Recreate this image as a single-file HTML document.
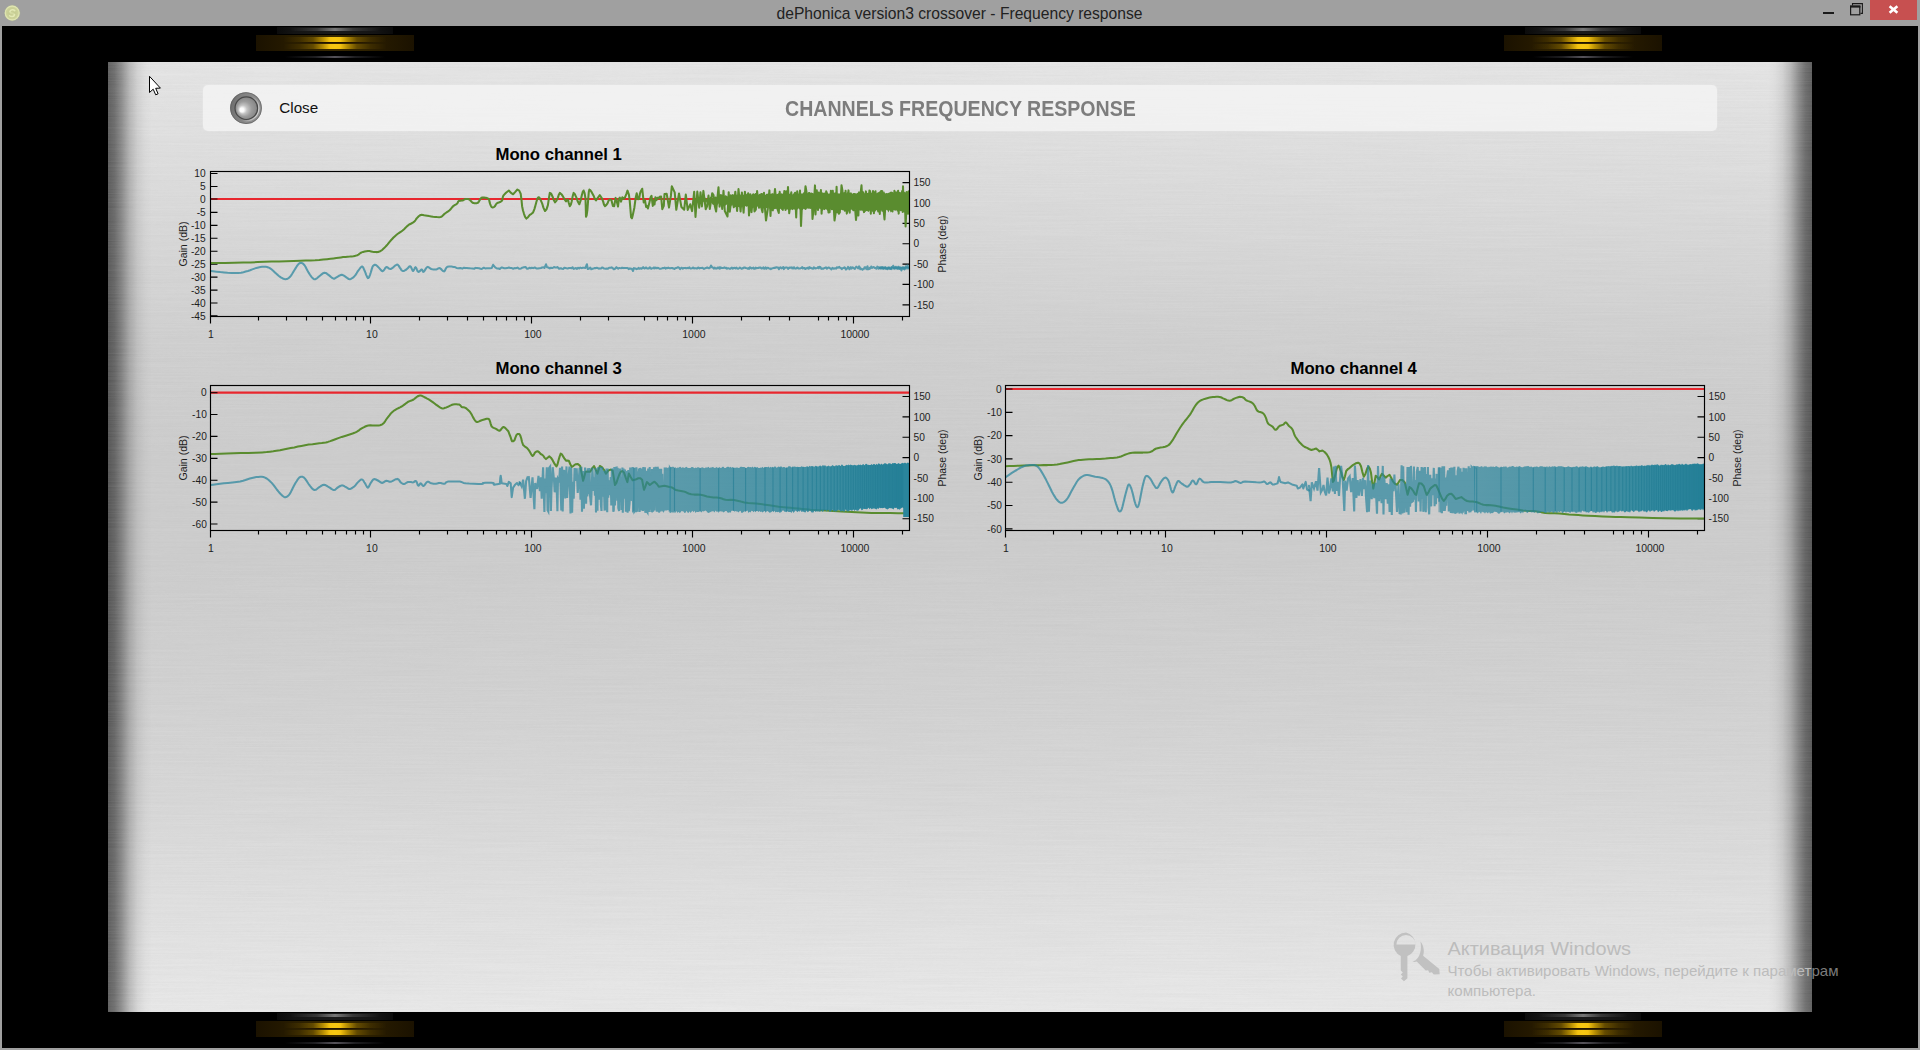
<!DOCTYPE html>
<html><head><meta charset="utf-8"><title>dePhonica version3 crossover - Frequency response</title>
<style>
*{box-sizing:border-box}
html,body{margin:0;padding:0}
body{width:1920px;height:1050px;overflow:hidden;background:#a0a0a0;font-family:"Liberation Sans",sans-serif;position:relative}
.abs{position:absolute}
#titlebar{left:0;top:0;width:1920px;height:26px;background:#a0a0a0}
#title{left:0;top:4.7px;width:1919px;text-align:center;font-size:15.65px;color:#222;white-space:nowrap}
#appicon{left:4.5px;top:5.5px;width:15px;height:15px;border-radius:50%;background:radial-gradient(circle at 50% 50%,#cfd69a 0,#d9dfa8 55%,#c9cf98 70%,#b4b99a 100%)}
#minb{left:1823px;top:12px;width:11px;height:2px;background:#1a1a1a}
#closeb{left:1870px;top:0;width:47px;height:20px;background:#c75050}
#black{left:2px;top:26px;width:1916px;height:1022px;background:#000}
#panel{left:108px;top:62px;width:1704px;height:950px;overflow:hidden;
 background:
  linear-gradient(90deg,rgba(0,0,0,0.6) 0px,rgba(0,0,0,0.53) 6.5px,rgba(0,0,0,0.39) 13.5px,rgba(0,0,0,0.2) 21.5px,rgba(0,0,0,0.08) 29.5px,rgba(0,0,0,0.025) 37px,rgba(0,0,0,0) 44px,rgba(0,0,0,0) 1660px,rgba(0,0,0,0.025) 1667px,rgba(0,0,0,0.08) 1674.5px,rgba(0,0,0,0.2) 1682.5px,rgba(0,0,0,0.39) 1690.5px,rgba(0,0,0,0.53) 1697.5px,rgba(0,0,0,0.6) 1704px),
  linear-gradient(180deg,#e5e5e5 0,#dfdfdf 78px,#d7d7d7 180px,#cfcfcf 278px,#cccccc 390px,#cccccc 500px,#d1d1d1 640px,#d7d7d7 740px,#dfdfdf 840px,#e4e4e4 900px,#e8e8e8 950px)}
#hdr{left:203px;top:85px;width:1514px;height:46px;border-radius:5px;background:rgba(243,243,243,.88);box-shadow:0 0 1.500px rgba(243,243,243,.7)}
#hdrtitle{left:784.6px;top:96.3px;font-weight:bold;font-size:21.7px;color:#7d7d7d;white-space:nowrap;transform-origin:0 0;transform:scaleX(.902)}
#closetxt{left:279.3px;top:98.7px;font-size:15.2px;color:#111;white-space:nowrap;transform-origin:0 0}
#knob{left:229.5px;top:92px;width:32px;height:32px;border-radius:50%;
 background:radial-gradient(circle at 50% 50%,#8a8a8a 0,#8a8a8a 62%,#6e6e6e 70%,#8f8f8f 80%,#777 92%,#999 100%)}
#knobin{left:235px;top:97.5px;width:21px;height:21px;border-radius:50%;
 background:radial-gradient(circle at 32% 62%,#fff 0,#f2f2f2 10%,#b9b9b9 38%,#8d8d8d 70%,#777 100%);box-shadow:0 0 0 1px #6a6a6a}
.wm{color:#b5b5b5;white-space:nowrap;transform-origin:0 0}
</style></head>
<body>
<div id="titlebar" class="abs"></div>
<svg class="abs" style="left:2px;top:3px" width="22" height="22" viewBox="2 3 22 22">
<circle cx="12.2" cy="13" r="8.4" fill="#a8ab9a" opacity=".55"/>
<circle cx="12.2" cy="13" r="7.5" fill="#cdd39a"/>
<circle cx="12.2" cy="13" r="6.9" fill="none" stroke="#dfe5b2" stroke-width="1.1"/>
<circle cx="12.2" cy="13" r="5.2" fill="#c9cf96"/>
<path d="M14.800 10.600c-1.300-1.200-3.700-1-4.600 .3-.9 1.400 .5 2.300 2 2.400 1.500 .1 2.900 .8 2.100 2.200-.8 1.300-3.300 1.500-4.700 .2" fill="none" stroke="#e3e9b6" stroke-width="1.5" stroke-linecap="round"/>
<path d="M8.600 13.100h7.300" stroke="#c3c98e" stroke-width=".8"/>
</svg>
<div id="title" class="abs">dePhonica version3 crossover - Frequency response</div>
<div id="minb" class="abs"></div>
<svg class="abs" style="left:1846px;top:0" width="20" height="20" viewBox="0 0 20 20"><path d="M6.5 5.5V3.6H16.4V13.4H14.5" fill="none" stroke="#1a1a1a" stroke-width="1.1"/><rect x="4.6" y="6.4" width="9.2" height="8.4" fill="none" stroke="#1a1a1a" stroke-width="1.2"/><rect x="4" y="5.4" width="10.4" height="2.2" fill="#1a1a1a"/></svg>
<div id="closeb" class="abs"></div>
<svg class="abs" style="left:1886px;top:3px" width="16" height="14" viewBox="0 0 16 14"><path d="M3.600 3.300L11.400 9.800M11.400 3.300L3.600 9.800" stroke="#fff" stroke-width="2.600" fill="none"/></svg>
<div id="black" class="abs"></div>
<div class="abs" style="left:276.5px;top:26.700000000000003px;width:116px;height:7px;background:linear-gradient(90deg,#0b0b0b 0,#141414 15%,#1b1b1b 50%,#141414 85%,#0b0b0b 100%)"></div>
<div class="abs" style="left:289.5px;top:28.1px;width:90px;height:2.6px;background:linear-gradient(90deg,rgba(120,120,120,0) 0,rgba(95,95,95,.45) 30%,rgba(125,125,125,.95) 50%,rgba(95,95,95,.45) 70%,rgba(120,120,120,0) 100%);filter:blur(.6px)"></div>
<div class="abs" style="left:255.5px;top:34.7px;width:158px;height:16px;background:linear-gradient(90deg,#1b1200 0,#231800 15%,#2e2100 30%,#3a2a00 50%,#2e2100 70%,#231800 85%,#1b1200 100%)"></div>
<div class="abs" style="left:282.5px;top:36.900000000000006px;width:104px;height:5.2px;background:linear-gradient(90deg,rgba(200,150,0,0) 0,rgba(190,145,0,.12) 16%,rgba(205,158,0,.32) 29%,rgba(228,178,4,.74) 38.5%,#f5c30f 45%,#f7c812 50%,#f5c30f 55%,rgba(228,178,4,.74) 61.5%,rgba(205,158,0,.32) 71%,rgba(190,145,0,.12) 84%,rgba(200,150,0,0) 100%);filter:blur(.5px)"></div>
<div class="abs" style="left:282.5px;top:43.5px;width:104px;height:5.6px;background:linear-gradient(90deg,rgba(200,150,0,0) 0,rgba(190,145,0,.12) 16%,rgba(205,158,0,.32) 29%,rgba(228,178,4,.74) 38.5%,#f5c30f 45%,#f7c812 50%,#f5c30f 55%,rgba(228,178,4,.74) 61.5%,rgba(205,158,0,.32) 71%,rgba(190,145,0,.12) 84%,rgba(200,150,0,0) 100%);filter:blur(.5px)"></div>
<div class="abs" style="left:294.5px;top:42.2px;width:80px;height:1.1px;background:linear-gradient(90deg,rgba(26,13,0,0),#1a0d00 30%,#1a0d00 70%,rgba(26,13,0,0));opacity:.75"></div>
<div class="abs" style="left:284.5px;top:56.0px;width:100px;height:2.4px;background:linear-gradient(90deg,rgba(80,80,90,0) 0,rgba(60,60,66,.5) 30%,rgba(95,92,100,.9) 50%,rgba(60,60,66,.5) 70%,rgba(80,80,90,0) 100%);filter:blur(.6px)"></div>
<div class="abs" style="left:1525px;top:26.700000000000003px;width:116px;height:7px;background:linear-gradient(90deg,#0b0b0b 0,#141414 15%,#1b1b1b 50%,#141414 85%,#0b0b0b 100%)"></div>
<div class="abs" style="left:1538px;top:28.1px;width:90px;height:2.6px;background:linear-gradient(90deg,rgba(120,120,120,0) 0,rgba(95,95,95,.45) 30%,rgba(125,125,125,.95) 50%,rgba(95,95,95,.45) 70%,rgba(120,120,120,0) 100%);filter:blur(.6px)"></div>
<div class="abs" style="left:1504px;top:34.7px;width:158px;height:16px;background:linear-gradient(90deg,#1b1200 0,#231800 15%,#2e2100 30%,#3a2a00 50%,#2e2100 70%,#231800 85%,#1b1200 100%)"></div>
<div class="abs" style="left:1531px;top:36.900000000000006px;width:104px;height:5.2px;background:linear-gradient(90deg,rgba(200,150,0,0) 0,rgba(190,145,0,.12) 16%,rgba(205,158,0,.32) 29%,rgba(228,178,4,.74) 38.5%,#f5c30f 45%,#f7c812 50%,#f5c30f 55%,rgba(228,178,4,.74) 61.5%,rgba(205,158,0,.32) 71%,rgba(190,145,0,.12) 84%,rgba(200,150,0,0) 100%);filter:blur(.5px)"></div>
<div class="abs" style="left:1531px;top:43.5px;width:104px;height:5.6px;background:linear-gradient(90deg,rgba(200,150,0,0) 0,rgba(190,145,0,.12) 16%,rgba(205,158,0,.32) 29%,rgba(228,178,4,.74) 38.5%,#f5c30f 45%,#f7c812 50%,#f5c30f 55%,rgba(228,178,4,.74) 61.5%,rgba(205,158,0,.32) 71%,rgba(190,145,0,.12) 84%,rgba(200,150,0,0) 100%);filter:blur(.5px)"></div>
<div class="abs" style="left:1543px;top:42.2px;width:80px;height:1.1px;background:linear-gradient(90deg,rgba(26,13,0,0),#1a0d00 30%,#1a0d00 70%,rgba(26,13,0,0));opacity:.75"></div>
<div class="abs" style="left:1533px;top:56.0px;width:100px;height:2.4px;background:linear-gradient(90deg,rgba(80,80,90,0) 0,rgba(60,60,66,.5) 30%,rgba(95,92,100,.9) 50%,rgba(60,60,66,.5) 70%,rgba(80,80,90,0) 100%);filter:blur(.6px)"></div>
<div class="abs" style="left:276.5px;top:1012.7px;width:116px;height:7px;background:linear-gradient(90deg,#0b0b0b 0,#141414 15%,#1b1b1b 50%,#141414 85%,#0b0b0b 100%)"></div>
<div class="abs" style="left:289.5px;top:1014.1px;width:90px;height:2.6px;background:linear-gradient(90deg,rgba(120,120,120,0) 0,rgba(95,95,95,.45) 30%,rgba(125,125,125,.95) 50%,rgba(95,95,95,.45) 70%,rgba(120,120,120,0) 100%);filter:blur(.6px)"></div>
<div class="abs" style="left:255.5px;top:1020.7px;width:158px;height:16px;background:linear-gradient(90deg,#1b1200 0,#231800 15%,#2e2100 30%,#3a2a00 50%,#2e2100 70%,#231800 85%,#1b1200 100%)"></div>
<div class="abs" style="left:282.5px;top:1022.9000000000001px;width:104px;height:5.2px;background:linear-gradient(90deg,rgba(200,150,0,0) 0,rgba(190,145,0,.12) 16%,rgba(205,158,0,.32) 29%,rgba(228,178,4,.74) 38.5%,#f5c30f 45%,#f7c812 50%,#f5c30f 55%,rgba(228,178,4,.74) 61.5%,rgba(205,158,0,.32) 71%,rgba(190,145,0,.12) 84%,rgba(200,150,0,0) 100%);filter:blur(.5px)"></div>
<div class="abs" style="left:282.5px;top:1029.5px;width:104px;height:5.6px;background:linear-gradient(90deg,rgba(200,150,0,0) 0,rgba(190,145,0,.12) 16%,rgba(205,158,0,.32) 29%,rgba(228,178,4,.74) 38.5%,#f5c30f 45%,#f7c812 50%,#f5c30f 55%,rgba(228,178,4,.74) 61.5%,rgba(205,158,0,.32) 71%,rgba(190,145,0,.12) 84%,rgba(200,150,0,0) 100%);filter:blur(.5px)"></div>
<div class="abs" style="left:294.5px;top:1028.2px;width:80px;height:1.1px;background:linear-gradient(90deg,rgba(26,13,0,0),#1a0d00 30%,#1a0d00 70%,rgba(26,13,0,0));opacity:.75"></div>
<div class="abs" style="left:284.5px;top:1042.0px;width:100px;height:2.4px;background:linear-gradient(90deg,rgba(80,80,90,0) 0,rgba(60,60,66,.5) 30%,rgba(95,92,100,.9) 50%,rgba(60,60,66,.5) 70%,rgba(80,80,90,0) 100%);filter:blur(.6px)"></div>
<div class="abs" style="left:1525px;top:1012.7px;width:116px;height:7px;background:linear-gradient(90deg,#0b0b0b 0,#141414 15%,#1b1b1b 50%,#141414 85%,#0b0b0b 100%)"></div>
<div class="abs" style="left:1538px;top:1014.1px;width:90px;height:2.6px;background:linear-gradient(90deg,rgba(120,120,120,0) 0,rgba(95,95,95,.45) 30%,rgba(125,125,125,.95) 50%,rgba(95,95,95,.45) 70%,rgba(120,120,120,0) 100%);filter:blur(.6px)"></div>
<div class="abs" style="left:1504px;top:1020.7px;width:158px;height:16px;background:linear-gradient(90deg,#1b1200 0,#231800 15%,#2e2100 30%,#3a2a00 50%,#2e2100 70%,#231800 85%,#1b1200 100%)"></div>
<div class="abs" style="left:1531px;top:1022.9000000000001px;width:104px;height:5.2px;background:linear-gradient(90deg,rgba(200,150,0,0) 0,rgba(190,145,0,.12) 16%,rgba(205,158,0,.32) 29%,rgba(228,178,4,.74) 38.5%,#f5c30f 45%,#f7c812 50%,#f5c30f 55%,rgba(228,178,4,.74) 61.5%,rgba(205,158,0,.32) 71%,rgba(190,145,0,.12) 84%,rgba(200,150,0,0) 100%);filter:blur(.5px)"></div>
<div class="abs" style="left:1531px;top:1029.5px;width:104px;height:5.6px;background:linear-gradient(90deg,rgba(200,150,0,0) 0,rgba(190,145,0,.12) 16%,rgba(205,158,0,.32) 29%,rgba(228,178,4,.74) 38.5%,#f5c30f 45%,#f7c812 50%,#f5c30f 55%,rgba(228,178,4,.74) 61.5%,rgba(205,158,0,.32) 71%,rgba(190,145,0,.12) 84%,rgba(200,150,0,0) 100%);filter:blur(.5px)"></div>
<div class="abs" style="left:1543px;top:1028.2px;width:80px;height:1.1px;background:linear-gradient(90deg,rgba(26,13,0,0),#1a0d00 30%,#1a0d00 70%,rgba(26,13,0,0));opacity:.75"></div>
<div class="abs" style="left:1533px;top:1042.0px;width:100px;height:2.4px;background:linear-gradient(90deg,rgba(80,80,90,0) 0,rgba(60,60,66,.5) 30%,rgba(95,92,100,.9) 50%,rgba(60,60,66,.5) 70%,rgba(80,80,90,0) 100%);filter:blur(.6px)"></div>
<div id="panel" class="abs"></div>
<svg class="abs" style="left:0;top:0" width="1920" height="1050" viewBox="0 0 1920 1050"><defs>
<filter id="brush" x="0" y="0" width="100%" height="100%"><feTurbulence type="fractalNoise" baseFrequency="0.011 0.8" numOctaves="2" seed="7" result="n"/><feColorMatrix type="matrix" values="0 0 0 0 1  0 0 0 0 1  0 0 0 0 1  0.9 0 0 0 -0.18"/></filter>
<filter id="brush2" x="0" y="0" width="100%" height="100%"><feTurbulence type="fractalNoise" baseFrequency="0.009 0.7" numOctaves="2" seed="23" result="n"/><feColorMatrix type="matrix" values="0 0 0 0 0.35  0 0 0 0 0.35  0 0 0 0 0.35  0.9 0 0 0 -0.2"/></filter>
</defs>
<rect x="108" y="62" width="1704" height="950" filter="url(#brush)" opacity="0.105"/>
<rect x="108" y="62" width="1704" height="950" filter="url(#brush2)" opacity="0.12"/>
</svg>
<div id="hdr" class="abs"></div>
<svg class="abs" style="left:226px;top:88px" width="40" height="40" viewBox="226 88 40 40">
<defs>
<linearGradient id="kr" x1="0" y1="0" x2="1" y2="0.2"><stop offset="0" stop-color="#686868"/><stop offset="0.35" stop-color="#7e7e7e"/><stop offset="1" stop-color="#939393"/></linearGradient>
<linearGradient id="kc" x1="0" y1="0.2" x2="1" y2="0.6"><stop offset="0" stop-color="#c8c8c8" stop-opacity="0"/><stop offset="0.55" stop-color="#c8c8c8" stop-opacity="0"/><stop offset="1" stop-color="#d0d0d0" stop-opacity="0.95"/></linearGradient>
<radialGradient id="ks" cx="246.3" cy="108.2" r="12.5" fx="241" fy="110.3" gradientUnits="userSpaceOnUse"><stop offset="0" stop-color="#fff"/><stop offset="0.16" stop-color="#fbfbfb"/><stop offset="0.34" stop-color="#c4c4c4"/><stop offset="0.6" stop-color="#9c9c9c"/><stop offset="0.85" stop-color="#8a8a8a"/><stop offset="1" stop-color="#808080"/></radialGradient>
</defs>
<circle cx="246" cy="108.1" r="15.9" fill="url(#kr)"/>
<circle cx="246" cy="108.1" r="15.5" fill="none" stroke="#5e5e5e" stroke-width="0.9" stroke-opacity="0.7"/>
<circle cx="246.3" cy="108.2" r="12.5" fill="none" stroke="url(#kc)" stroke-width="1.5"/>
<circle cx="246.3" cy="108.2" r="10.9" fill="url(#ks)"/>
<circle cx="246.3" cy="108.2" r="11.3" fill="none" stroke="#484848" stroke-width="1.15"/>
</svg>
<div id="closetxt" class="abs">Close</div>
<div id="hdrtitle" class="abs">CHANNELS FREQUENCY RESPONSE</div>
<svg class="abs" style="left:0;top:0" width="1920" height="1050" viewBox="0 0 1920 1050" font-family="Liberation Sans, sans-serif"><style>.tl{font-size:11.6px;fill:#1e1e1e}</style><clipPath id="c210_171"><rect x="210.5" y="171.5" width="699" height="145"/></clipPath>
<text x="558.7" y="159.9" text-anchor="middle" font-weight="bold" font-size="16.6" fill="#000" textLength="126.5" lengthAdjust="spacingAndGlyphs">Mono channel 1</text>
<path d="M210.5 173.5h7M210.5 186.5h7M210.5 199.4h7M210.5 212.3h7M210.5 225.3h7M210.5 238.2h7M210.5 251.2h7M210.5 264.1h7M210.5 277.1h7M210.5 290.1h7M210.5 303.0h7M210.5 315.9h7M909.5 182.6h-7M909.5 202.9h-7M909.5 223.3h-7M909.5 243.7h-7M909.5 264.1h-7M909.5 284.4h-7M909.5 304.8h-7M210.50 316.5v7M258.50 316.5v4M286.50 316.5v4M306.50 316.5v4M322.50 316.5v4M335.50 316.5v4M346.50 316.5v4M355.50 316.5v4M363.50 316.5v4M370.50 316.5v7M419.50 316.5v4M447.50 316.5v4M467.50 316.5v4M483.50 316.5v4M496.50 316.5v4M506.50 316.5v4M516.50 316.5v4M524.50 316.5v4M531.50 316.5v7M580.50 316.5v4M608.50 316.5v4M644.50 316.5v4M657.50 316.5v4M667.50 316.5v4M677.50 316.5v4M685.50 316.5v4M692.50 316.5v7M741.50 316.5v4M769.50 316.5v4M789.50 316.5v4M818.50 316.5v4M828.50 316.5v4M838.50 316.5v4M846.50 316.5v4M853.50 316.5v7M902.50 316.5v4" stroke="#000" stroke-width="1.15" fill="none"/>
<g clip-path="url(#c210_171)" fill="none" stroke-linejoin="round" stroke-linecap="round">
<path d="M210.5 199.0H909.5" stroke="#e8272e" stroke-width="2.2" stroke-linecap="butt"/>
<path d="M210.7 263.1L216.6 263.0L225.1 262.9L234.5 262.8L243.1 262.6L250.5 262.4L257.6 262.1L264.6 261.8L271.7 261.6L279.1 261.4L286.5 261.2L293.7 261.0L300.2 260.8L305.7 260.6L310.6 260.4L315.1 260.3L319.3 260.0L323.3 259.6L327.1 259.2L330.5 258.8L333.6 258.4L336.3 258.0L338.7 257.7L340.9 257.4L343.1 257.1L345.4 256.9L347.6 256.7L349.8 256.6L351.7 256.4L353.4 256.2L354.8 255.9L356.1 255.6L357.4 255.2L358.5 254.6L359.5 253.8L360.5 253.0L361.7 252.4L363.1 251.9L364.7 251.5L366.3 251.2L367.9 251.0L369.5 251.1L371.1 251.4L372.6 251.7L374.0 251.9L375.2 252.0L376.3 252.1L377.3 252.1L378.3 251.9L379.3 251.6L380.2 251.2L381.1 250.7L382.1 250.0L383.1 249.1L384.2 248.1L385.3 246.9L386.4 245.7L387.6 244.4L388.8 242.9L390.0 241.4L391.2 240.0L392.4 238.7L393.5 237.5L394.7 236.4L396.0 235.2L397.5 234.0L399.2 232.9L401.0 231.7L402.6 230.5L404.1 229.2L405.5 227.8L406.9 226.4L408.3 225.2L409.8 224.2L411.3 223.5L412.8 222.7L414.0 221.9L414.9 221.0L415.6 220.0L416.2 219.0L416.9 218.1L417.8 217.2L418.7 216.3L419.7 215.5L420.7 215.0L421.8 214.8L422.9 214.9L424.1 215.2L425.5 215.4L427.2 215.7L429.1 216.1L431.1 216.4L433.1 216.7L435.1 216.9L437.1 217.1L439.1 217.2L440.7 217.0L441.9 216.4L442.8 215.6L443.6 214.7L444.5 213.8L445.7 213.0L446.9 212.2L448.1 211.4L449.3 210.5L450.3 209.5L451.3 208.3L452.2 207.2L453.1 206.2L454.1 205.5L455.1 204.9L456.1 204.4L456.9 203.8L457.5 203.1L457.9 202.3L458.2 201.5L458.8 201.0L459.6 200.7L460.6 200.7L461.7 200.6L462.6 200.5L463.4 200.1L464.1 199.7L464.7 199.3L465.5 199.0L466.4 198.9L467.4 199.0L468.4 199.1L469.3 199.5L470.2 200.2L471.0 201.1L471.8 202.0L472.6 202.7L473.5 203.1L474.4 203.3L475.2 203.3L476.0 203.3L476.6 203.2L477.2 203.1L477.7 202.9L478.3 202.4L478.9 201.6L479.5 200.5L480.1 199.4L480.7 198.6L481.1 198.1L481.4 197.8L481.9 197.6L482.6 197.6L483.9 197.6L485.5 197.8L487.1 198.1L488.3 198.6L489.0 199.4L489.3 200.6L489.5 201.8L489.8 202.9L490.2 204.1L490.7 205.3L491.2 206.4L491.7 207.1L492.3 207.4L493.1 207.4L493.8 207.1L494.5 206.7L495.1 206.0L495.6 205.1L496.1 204.1L496.9 203.3L498.0 202.7L499.4 202.2L500.7 201.7L501.7 201.0L502.3 199.9L502.5 198.6L502.8 197.3L503.1 196.2L503.6 195.3L504.2 194.6L504.8 194.0L505.5 193.3L506.3 192.5L507.3 191.7L508.2 191.0L508.8 190.5L510.7 192.7L513.1 194.3L515.3 191.9L517.4 189.5L519.2 190.6L520.7 193.8L521.5 199.8L522.1 206.2L523.0 210.5L524.0 213.8L525.1 216.9L526.4 218.6L528.0 217.2L529.8 214.8L531.5 213.8L533.1 212.4L534.4 209.1L535.5 205.2L536.5 201.5L537.4 198.6L538.3 197.3L539.3 197.6L540.6 199.9L542.1 203.3L543.5 207.9L545.0 211.0L546.5 209.3L547.9 205.2L548.9 198.4L549.8 192.9L551.2 193.7L552.6 196.7L553.8 200.1L555.0 202.4L556.5 200.6L557.9 197.6L558.8 194.7L559.8 192.9L561.4 194.2L563.1 196.7L564.6 199.4L566.0 201.4L567.0 200.3L567.9 199.5L568.8 203.0L569.8 206.2L570.8 204.7L571.7 201.4L572.6 196.6L573.6 192.9L574.9 194.3L576.4 197.6L577.9 201.8L579.3 204.3L580.6 200.7L581.7 195.7L582.7 192.1L583.6 190.5L584.6 193.1L585.5 198.6L585.8 208.6L586.0 216.7L586.6 215.6L587.4 210.0L588.1 200.7L588.8 191.9L589.4 189.5L590.2 190.0L591.8 192.4L593.6 195.7L594.8 198.8L596.0 200.5L597.8 197.8L599.8 195.2L601.7 198.0L603.1 201.4L604.0 204.6L605.0 206.1L606.4 204.9L607.5 203.4L608.8 200.2L610.0 199.5L611.4 199.9L612.9 206.0L614.2 206.2L615.6 197.9L616.7 201.1L618.0 206.6L618.9 198.8L619.8 197.6L621.0 201.6L622.3 197.3L623.7 198.7L625.0 197.3L626.4 193.8L627.5 190.6L628.9 194.7L629.7 200.6L631.1 217.3L632.0 218.3L632.8 214.9L634.3 208.0L635.7 197.7L636.7 193.2L638.0 199.3L639.1 199.1L639.9 193.8L640.7 191.4L642.2 188.7L643.7 202.4L645.0 200.4L646.1 206.9L647.0 205.9L647.9 208.5L649.3 202.9L650.6 197.3L651.5 195.8L652.8 205.9L653.6 200.5L654.5 204.5L655.4 197.2L656.5 200.2L657.4 197.8L658.7 198.4L659.6 196.7L661.1 196.5L662.3 209.2L663.8 205.9L664.5 194.1L666.7 193.8L669.0 207.5L670.9 195.9L671.8 186.3L674.7 192.4L676.3 209.8L679.0 193.5L681.4 207.0L684.2 209.7L685.8 194.6L687.7 209.9L690.2 204.3L692.1 211.1L694.2 191.7L695.5 217.0L697.3 191.6L699.2 207.7L700.5 192.3L701.9 206.5L703.4 190.9L705.7 209.2L707.0 206.5L708.5 195.6L709.8 209.0L712.2 193.2L713.5 195.1L714.8 206.1L716.1 211.6L718.5 187.2L719.6 206.6L720.9 195.0L722.2 208.9L723.5 190.7L724.8 211.0L727.5 216.5L728.7 192.2L729.8 211.7L731.9 195.9L733.8 207.3L735.3 191.7L737.1 210.9L738.5 189.0L740.6 211.5L741.9 192.6L743.6 212.6L744.9 191.7L746.7 205.7L748.2 193.2L749.0 215.5L750.4 194.3L751.5 212.1L753.3 194.2L754.5 211.4L755.8 209.7L757.1 191.1L758.9 207.4L760.0 194.9L761.3 207.7L762.5 212.2L764.0 192.7L764.8 206.4L766.0 220.5L767.8 208.9L769.4 190.4L770.5 216.0L771.5 194.5L772.8 210.3L775.0 189.0L775.7 195.4L777.3 208.5L778.8 213.0L779.7 191.8L781.1 207.2L782.8 209.8L784.3 191.0L785.5 210.0L786.2 191.3L787.0 208.3L788.0 187.0L789.2 213.2L789.9 207.4L791.3 192.3L792.5 208.2L794.0 195.0L795.1 192.7L796.2 217.5L797.2 191.3L798.5 206.3L800.0 190.6L801.0 226.0L801.8 208.4L803.2 195.5L804.0 207.7L805.0 192.5L805.5 186.3L806.8 193.6L807.8 207.1L809.0 193.0L810.3 207.7L811.7 194.3L812.5 219.0L813.3 211.8L815.0 185.4L815.5 214.4L816.8 190.3L818.0 210.0L818.7 192.5L819.7 207.1L820.9 190.1L821.6 213.6L822.4 193.4L823.5 206.0L824.2 193.5L824.9 207.2L826.2 191.3L827.2 193.8L828.5 212.4L829.6 212.2L830.9 190.8L832.0 209.2L832.8 190.8L833.8 207.8L834.5 220.5L835.5 214.1L836.6 186.8L837.3 212.2L837.9 194.8L838.8 213.8L839.8 212.5L840.9 196.1L841.5 185.2L842.4 190.4L843.3 208.9L844.2 194.6L844.8 210.7L845.6 190.7L846.8 213.6L847.6 209.9L848.5 190.4L849.7 212.6L850.6 193.5L851.5 207.0L852.3 194.7L853.3 210.3L854.3 207.9L855.3 211.1L856.0 220.0L857.3 207.6L858.4 215.5L859.1 192.4L859.7 206.7L860.5 194.0L861.5 185.3L861.8 191.2L862.4 209.5L863.1 192.2L864.0 212.1L864.7 195.8L865.2 210.6L865.9 191.4L866.7 206.7L867.6 194.6L868.6 209.0L869.4 190.5L870.1 191.2L870.8 213.7L871.5 194.0L872.2 207.6L873.0 191.0L873.9 213.2L874.6 192.9L875.5 191.2L876.4 206.8L877.4 195.8L878.2 211.4L879.1 193.0L879.8 214.0L880.5 191.7L881.2 191.0L882.1 191.0L882.9 193.0L883.5 209.5L884.5 219.5L885.2 208.5L885.8 195.7L886.3 206.6L887.2 196.2L887.8 208.0L888.3 195.2L889.1 208.7L889.8 194.7L890.4 192.8L890.9 206.5L891.5 193.0L892.5 211.5L893.1 194.0L893.8 207.4L894.4 190.7L895.3 208.3L896.1 196.4L896.9 206.8L897.4 193.3L898.1 190.8L898.7 213.6L899.2 192.9L900.0 208.7L900.5 193.4L901.2 207.0L902.1 191.0L902.7 211.9L903.0 186.2L903.8 211.2L904.4 194.5L905.1 208.3L905.6 226.5L906.2 212.9L906.6 192.0L907.2 213.0L907.6 195.4L908.0 213.7L908.7 191.4L909.2 213.6" stroke="#5a8c2f" stroke-width="2.05"/>
<path d="M696.0 200.5L697.1 200.7L698.2 200.4L699.3 198.5L700.4 200.6L701.5 200.3L702.6 199.1L703.7 199.1L704.8 197.6L705.9 198.1L707.0 199.1L708.1 199.0L709.2 198.3L710.3 196.7L711.4 197.0L712.5 198.7L713.6 196.8L714.7 197.3L715.8 196.3L716.9 197.3L718.0 197.6L719.1 196.1L720.2 195.4L721.3 195.6L722.4 194.7L723.5 195.4L724.6 196.3L725.7 195.0L726.8 195.9L727.9 196.5L729.0 195.9L730.1 194.1L731.2 194.9L732.3 194.0L733.4 194.4L734.5 194.4L735.6 196.1L736.7 194.6L737.8 195.0L738.9 194.0L740.0 195.6L741.1 193.7L742.2 193.8L743.3 195.0L744.4 194.3L745.5 194.7L746.6 194.1L747.7 193.5L748.8 194.9L749.9 193.6L751.0 195.6L752.1 194.1L753.2 194.5L754.3 194.1L755.4 193.1L756.5 193.0L757.6 194.9L758.7 194.6L759.8 194.3L760.9 193.0L762.0 193.1L763.1 193.4L764.2 195.1L765.3 195.0L766.4 193.8L767.5 193.8L768.6 193.6L769.7 193.5L770.8 194.9L771.9 193.8L773.0 192.8L774.1 194.4L775.2 193.4L776.3 194.3L777.4 194.0L778.5 193.3L779.6 193.1L780.7 194.2L781.8 193.1L782.9 193.9L784.0 192.3L785.1 192.9L786.2 193.4L787.3 193.8L788.4 193.1L789.5 194.0L790.6 193.0L791.7 194.3L792.8 194.5L793.9 193.4L795.0 192.5L796.1 194.3L797.2 193.7L798.3 193.8L799.4 193.9L800.5 193.6L801.6 193.5L802.7 193.5L803.8 192.0L804.9 193.0L806.0 192.5L807.1 193.5L808.2 193.1L809.3 192.1L810.4 192.7L811.5 192.4L812.6 193.0L813.7 193.4L814.8 192.5L815.9 191.9L817.0 192.5L818.1 192.1L819.2 192.7L820.3 193.3L821.4 193.1L822.5 193.2L823.6 193.8L824.7 193.8L825.8 192.7L826.9 193.2L828.0 194.1L829.1 193.2L830.2 193.9L831.3 192.0L832.4 193.2L833.5 193.2L834.6 192.6L835.7 192.3L836.8 194.0L837.9 194.0L839.0 193.1L840.1 194.0L841.2 192.7L842.3 194.0L843.4 192.3L844.5 191.9L845.6 192.7L846.7 193.5L847.8 191.6L848.9 192.3L850.0 193.5L851.1 192.2L852.2 194.0L853.3 193.0L854.4 193.1L855.5 193.3L856.6 193.4L857.7 192.8L858.8 192.2L859.9 192.6L861.0 193.3L862.1 191.6L863.2 192.6L864.3 193.6L865.4 191.5L866.5 192.5L867.6 193.1L868.7 192.6L869.8 192.3L870.9 193.4L872.0 192.1L873.1 191.5L874.2 193.0L875.3 192.0L876.4 193.5L877.5 192.5L878.6 192.5L879.7 191.7L880.8 193.2L881.9 191.8L883.0 193.2L884.1 191.3L885.2 193.6L886.3 192.9L887.4 193.2L888.5 192.8L889.6 192.9L890.7 191.9L891.8 191.5L892.9 192.2L894.0 192.7L895.1 191.4L896.2 191.3L897.3 192.5L898.4 193.2L899.5 192.1L900.6 192.5L901.7 193.3L902.8 191.2L903.9 191.4L905.0 192.3L906.1 192.4L907.2 191.7L908.3 191.6L909.4 192.2L909.4 210.5L908.3 212.2L907.2 211.6L906.1 211.8L905.0 212.6L903.9 211.8L902.8 211.9L901.7 211.0L900.6 211.3L899.5 210.8L898.4 210.3L897.3 212.0L896.2 210.0L895.1 210.9L894.0 210.0L892.9 210.3L891.8 211.5L890.7 212.4L889.6 210.1L888.5 212.4L887.4 210.3L886.3 209.8L885.2 212.5L884.1 211.7L883.0 211.5L881.9 211.9L880.8 209.8L879.7 211.2L878.6 210.5L877.5 211.1L876.4 209.9L875.3 211.7L874.2 210.7L873.1 211.8L872.0 211.8L870.9 210.0L869.8 210.5L868.7 212.0L867.6 211.2L866.5 211.0L865.4 211.5L864.3 210.9L863.2 211.9L862.1 210.0L861.0 210.9L859.9 210.3L858.8 210.7L857.7 210.2L856.6 210.1L855.5 209.5L854.4 210.9L853.3 210.5L852.2 210.0L851.1 209.6L850.0 209.8L848.9 211.7L847.8 210.5L846.7 211.3L845.6 209.8L844.5 210.7L843.4 210.3L842.3 210.3L841.2 209.8L840.1 210.3L839.0 209.6L837.9 211.4L836.8 209.8L835.7 209.6L834.6 209.9L833.5 211.2L832.4 209.1L831.3 210.2L830.2 208.6L829.1 209.6L828.0 211.3L826.9 210.1L825.8 208.9L824.7 210.3L823.6 209.6L822.5 211.1L821.4 209.4L820.3 208.7L819.2 208.5L818.1 210.7L817.0 209.5L815.9 209.4L814.8 210.8L813.7 209.9L812.6 209.3L811.5 208.3L810.4 208.7L809.3 208.5L808.2 208.7L807.1 208.2L806.0 210.0L804.9 209.8L803.8 208.4L802.7 210.0L801.6 210.1L800.5 209.1L799.4 209.5L798.3 208.3L797.2 209.8L796.1 209.1L795.0 210.0L793.9 209.1L792.8 210.3L791.7 209.5L790.6 209.8L789.5 209.7L788.4 209.2L787.3 209.6L786.2 209.6L785.1 209.1L784.0 208.7L782.9 208.8L781.8 209.7L780.7 209.0L779.6 208.3L778.5 208.9L777.4 209.0L776.3 208.8L775.2 209.0L774.1 209.2L773.0 207.4L771.9 207.6L770.8 208.3L769.7 209.3L768.6 206.9L767.5 207.3L766.4 208.4L765.3 207.6L764.2 208.7L763.1 207.5L762.0 208.6L760.9 207.4L759.8 208.3L758.7 208.7L757.6 206.3L756.5 207.3L755.4 208.4L754.3 207.0L753.2 208.0L752.1 206.3L751.0 207.1L749.9 205.7L748.8 208.3L747.7 205.8L746.6 205.8L745.5 206.1L744.4 207.8L743.3 207.7L742.2 206.0L741.1 207.7L740.0 207.4L738.9 207.0L737.8 207.0L736.7 205.8L735.6 207.3L734.5 206.8L733.4 207.3L732.3 204.6L731.2 206.1L730.1 206.6L729.0 206.7L727.9 204.3L726.8 204.4L725.7 205.5L724.6 205.4L723.5 204.7L722.4 205.6L721.3 205.2L720.2 203.5L719.1 203.6L718.0 203.8L716.9 205.4L715.8 205.2L714.7 204.3L713.6 204.9L712.5 204.4L711.4 202.4L710.3 204.1L709.2 201.8L708.1 201.6L707.0 201.5L705.9 203.4L704.8 201.3L703.7 202.1L702.6 201.0L701.5 200.4L700.4 201.8L699.3 201.1L698.2 202.2L697.1 202.0L696.0 201.3Z" fill="#5a8c2f" stroke="none"/>
<path d="M210.7 271.0L213.1 271.3L216.5 271.7L220.3 272.1L224.0 272.4L227.6 272.7L231.4 272.9L235.0 273.1L238.3 273.0L241.1 272.7L243.5 272.2L245.7 271.6L247.9 271.0L250.1 270.3L252.3 269.4L254.4 268.6L256.4 267.9L258.4 267.4L260.4 267.0L262.2 266.8L264.0 266.7L265.6 266.8L267.0 267.0L268.3 267.4L269.8 268.1L271.4 269.3L273.2 270.8L274.9 272.4L276.4 273.8L277.7 274.9L278.9 276.0L280.1 276.8L281.2 277.6L282.3 278.2L283.4 278.8L284.4 279.1L285.5 279.2L286.6 279.1L287.6 278.7L288.7 278.1L289.8 277.1L291.0 275.6L292.2 273.8L293.4 271.8L294.5 270.0L295.5 268.4L296.5 266.8L297.4 265.4L298.3 264.3L299.1 263.6L299.8 263.1L300.5 262.9L301.2 262.9L302.0 263.1L302.8 263.5L303.6 264.2L304.5 265.2L305.5 266.8L306.6 268.9L307.7 271.0L308.8 272.9L309.8 274.5L310.8 275.9L311.7 277.1L312.6 278.1L313.4 278.8L314.1 279.2L314.7 279.3L315.5 279.2L316.4 278.7L317.3 278.0L318.2 277.1L319.3 276.2L320.5 275.2L321.9 274.1L323.2 273.2L324.5 272.7L325.6 272.9L326.7 273.5L327.7 274.4L328.8 275.2L330.0 276.1L331.3 277.2L332.5 278.1L333.6 278.6L334.5 278.6L335.2 278.2L336.0 277.6L336.9 277.1L338.0 276.5L339.2 275.7L340.5 275.1L341.7 274.8L342.8 275.1L343.9 275.7L345.0 276.4L346.0 277.1L347.0 277.8L347.9 278.5L348.8 279.0L349.8 279.2L350.9 278.9L352.1 278.2L353.4 277.3L354.5 276.2L355.6 274.9L356.6 273.3L357.5 271.7L358.5 270.3L359.5 269.0L360.4 267.8L361.3 266.9L362.1 266.5L362.8 266.9L363.3 267.8L363.9 269.1L364.5 270.5L365.3 272.4L366.2 274.8L367.1 276.9L367.9 278.1L368.5 278.0L369.1 277.2L369.6 275.8L370.2 274.3L370.8 272.5L371.4 270.4L372.0 268.3L372.6 266.7L373.3 265.7L374.0 265.1L374.7 264.8L375.5 264.8L376.3 265.2L377.1 265.9L377.9 266.7L378.8 267.6L379.7 268.6L380.7 269.8L381.6 270.8L382.6 271.2L383.5 270.6L384.5 269.3L385.4 267.9L386.4 267.1L387.4 267.3L388.4 268.1L389.5 268.8L390.7 269.0L392.2 268.2L393.9 266.7L395.5 265.3L396.9 264.6L397.9 264.8L398.6 265.6L399.2 266.6L399.8 267.6L400.5 268.5L401.1 269.6L401.8 270.5L402.6 271.0L403.5 271.0L404.4 270.7L405.4 270.1L406.4 269.5L407.4 268.6L408.4 267.5L409.3 266.5L410.2 266.2L411.0 267.0L411.7 268.6L412.4 270.2L413.1 271.0L413.7 270.4L414.3 269.1L414.9 267.7L415.5 267.1L416.2 267.9L416.8 269.4L417.5 271.0L418.3 271.9L419.1 271.7L420.1 270.9L420.9 269.9L421.7 269.5L422.2 269.9L422.6 270.9L423.0 271.7L423.6 271.9L424.4 271.0L425.4 269.4L426.4 267.8L427.4 266.9L428.3 267.0L429.2 267.6L430.2 268.4L431.2 269.0L432.4 269.3L433.6 269.5L434.8 269.5L436.0 269.5L437.0 269.2L437.9 268.6L438.8 268.2L439.8 268.1L440.8 268.8L441.9 270.0L443.0 271.0L444.0 271.4L444.8 270.7L445.5 269.2L446.3 267.7L447.4 266.7L449.2 266.5L451.4 266.6L453.5 266.9L455.0 267.1L456.5 267.9L458.4 268.2L460.2 268.0L462.3 268.6L464.0 267.7L465.3 268.1L466.9 268.0L468.9 268.2L470.3 268.3L472.5 268.4L474.4 268.7L475.5 267.9L477.0 268.0L479.1 268.2L480.6 268.7L481.8 268.9L483.8 267.7L485.2 268.4L486.7 268.2L488.6 268.3L489.9 268.2L491.8 267.9L493.1 264.8L495.2 267.4L496.9 268.5L498.6 268.5L499.8 269.0L501.2 267.6L502.5 267.6L504.3 268.2L505.6 268.3L507.1 268.1L508.9 267.5L510.3 268.0L511.9 268.1L513.2 268.7L514.6 268.1L515.8 268.3L517.5 267.6L518.6 268.6L519.6 268.8L521.1 268.4L522.3 267.7L523.9 267.3L525.5 267.0L527.1 268.8L528.5 268.5L529.6 267.7L530.7 268.2L531.7 267.8L533.2 268.1L534.7 267.5L535.6 268.0L536.8 268.5L537.8 268.5L539.3 268.2L541.0 268.0L542.0 267.5L543.6 267.3L544.5 267.9L546.0 264.3L547.0 267.3L548.3 267.5L549.8 268.4L550.9 267.7L552.3 268.0L553.2 267.6L554.0 267.1L555.3 267.5L556.6 267.4L557.6 267.1L559.1 268.8L560.1 268.3L560.9 268.2L562.1 268.7L563.4 268.9L564.3 267.7L565.5 268.0L566.5 268.3L567.6 268.4L569.0 268.0L570.3 268.1L571.7 268.3L572.6 267.3L573.7 268.9L574.7 268.5L576.0 268.1L577.0 268.9L577.9 267.8L579.3 268.4L580.3 267.6L581.8 268.1L582.7 267.7L584.0 267.8L585.5 267.9L586.9 264.2L587.8 269.0L589.3 268.5L590.3 267.6L591.2 269.2L592.0 269.0L593.3 268.6L594.4 268.1L595.7 268.1L596.8 267.7L597.8 268.1L598.8 268.7L599.7 268.4L601.0 268.5L602.0 267.5L603.0 267.8L604.2 268.6L605.6 268.7L606.7 268.5L607.9 268.8L609.1 267.7L610.4 267.7L611.6 267.4L612.8 268.2L613.8 269.2L615.0 268.7L616.4 267.2L617.2 268.0L618.2 268.6L619.0 268.0L620.0 268.1L621.3 268.2L622.1 267.7L623.5 268.1L624.5 267.9L625.6 268.0L627.0 267.9L627.9 268.2L628.7 269.1L629.9 268.4L630.8 268.8L631.8 268.7L633.0 271.0L633.9 268.1L634.9 268.5L635.8 268.6L636.5 269.1L637.8 268.8L638.5 267.9L639.5 268.8L640.7 268.3L641.6 268.7L642.3 268.2L643.2 267.2L644.2 268.4L645.0 268.4L646.0 267.4L646.8 268.3L647.8 268.6L648.7 268.5L649.9 267.3L651.2 268.8L651.9 268.2L653.2 268.2L654.0 267.4L654.7 268.4L655.8 267.6L656.8 268.3L657.6 267.8L658.5 268.0L659.7 268.8L660.5 268.7L661.6 268.4L662.4 268.1L663.1 268.3L664.0 267.9L664.8 267.6L665.6 268.7L666.5 267.9L667.6 268.1L668.3 267.6L669.5 268.2L670.3 268.3L671.3 268.0L672.4 268.0L673.4 268.6L674.5 268.9L675.7 268.0L676.8 267.9L678.0 267.2L679.2 267.9L680.1 269.1L681.2 267.8L681.8 267.8L682.8 268.6L683.9 268.0L685.1 267.9L686.1 268.4L687.3 267.9L688.2 268.3L689.4 267.4L690.2 268.5L691.0 268.4L691.9 268.3L692.6 267.8L693.3 267.6L693.9 268.4L694.9 268.2L696.1 268.3L697.0 268.6L697.7 267.8L698.5 267.6L699.5 268.4L700.5 267.9L701.4 267.9L702.2 267.8L703.1 268.2L704.0 268.9L705.0 268.3L706.0 268.1L707.2 267.4L708.0 268.1L709.0 268.2L709.9 267.2L710.6 267.4L711.0 265.5L712.2 267.3L712.9 267.5L713.8 268.7L714.6 267.6L715.6 268.5L716.5 268.6L717.4 267.6L718.1 268.3L719.2 267.3L719.9 268.7L720.6 267.3L721.3 267.9L722.4 267.9L723.1 268.0L723.8 267.8L724.6 267.4L725.3 268.1L726.2 267.8L727.0 268.7L727.7 268.2L728.7 268.2L729.5 268.8L730.4 268.8L731.1 268.0L731.9 267.5L732.7 268.6L733.7 268.0L734.6 267.8L735.6 268.4L736.5 267.6L737.2 268.3L738.2 268.8L739.0 268.2L739.7 267.6L740.3 267.8L741.2 268.6L741.9 268.9L742.7 268.1L743.4 268.3L744.0 267.4L744.7 267.4L745.4 267.9L746.1 268.1L747.1 268.3L748.0 268.8L748.6 268.1L749.2 268.8L749.9 267.3L750.7 267.7L751.6 268.5L752.4 268.1L753.4 267.6L754.0 268.8L754.8 268.8L755.7 267.6L756.3 268.3L757.4 268.0L758.4 268.0L759.0 267.5L759.7 267.7L760.5 267.5L761.5 268.5L762.1 268.2L762.8 268.3L763.4 267.3L764.2 268.7L764.9 268.6L765.6 267.4L766.4 268.8L767.3 267.7L768.1 267.7L768.8 268.3L769.6 268.7L770.3 268.5L771.0 269.1L771.7 268.4L772.7 268.2L773.4 267.9L774.2 267.8L775.0 268.0L775.7 267.4L776.4 267.3L777.3 267.5L778.1 267.6L779.0 269.1L779.7 267.7L780.5 267.3L781.5 268.4L782.6 267.8L783.3 267.0L783.9 269.1L784.6 267.8L785.3 267.8L786.2 267.4L787.1 267.5L788.1 268.9L789.1 267.5L789.8 267.9L790.8 267.5L791.7 267.4L792.3 268.4L792.9 267.9L793.5 268.3L794.0 267.2L794.6 268.3L795.4 268.6L796.1 268.5L796.8 267.9L797.5 267.5L798.4 268.5L799.3 268.4L800.2 268.5L801.0 268.0L801.7 267.7L802.2 267.0L802.9 268.5L803.7 267.9L804.6 267.9L805.2 269.0L805.8 268.3L806.5 268.5L807.0 268.2L807.8 267.7L808.5 268.7L809.3 267.1L809.9 268.1L810.9 267.8L811.5 268.1L812.2 268.5L813.1 268.7L813.9 267.3L814.5 267.8L815.2 268.5L816.1 268.3L817.1 268.1L818.0 267.1L818.9 268.3L819.4 266.8L820.3 266.9L821.3 268.9L822.0 268.6L822.9 268.5L823.4 268.8L824.3 268.0L824.9 267.9L825.5 267.5L826.0 267.4L826.9 268.7L827.7 267.9L828.3 267.5L829.0 267.6L829.9 268.3L830.7 268.6L831.3 269.4L831.8 268.7L832.5 267.8L833.2 268.5L833.9 268.7L834.4 268.6L834.9 268.2L835.6 268.5L836.2 268.6L836.9 267.2L837.7 267.8L838.5 267.5L839.3 266.9L840.0 267.8L840.9 268.0L841.8 269.1L842.5 268.3L843.3 267.9L843.9 268.0L844.6 267.3L845.2 268.0L845.9 269.5L846.7 268.5L847.6 268.4L848.1 266.9L848.8 267.8L849.5 269.3L850.1 267.8L850.8 267.1L851.5 268.6L852.1 267.8L852.6 267.3L853.2 267.7L853.9 268.4L854.8 269.0L855.6 267.6L856.3 266.7L856.8 267.2L857.4 267.5L858.1 268.5L858.6 267.2L859.1 266.4L859.7 267.3L860.2 269.2L861.0 268.5L861.8 269.0L862.5 269.7L863.3 269.0L864.0 268.7L864.5 267.2L865.1 268.4L865.6 267.2L866.1 268.5L866.9 269.1L867.5 266.3L868.1 269.3L868.8 268.3L869.3 269.0L869.8 267.8L870.5 268.4L871.2 266.5L871.8 267.5L872.3 267.9L873.1 267.1L873.9 267.3L874.5 267.9L875.1 267.8L875.8 268.4L876.5 268.7L877.3 266.6L878.0 266.9L878.5 268.7L879.2 267.8L879.9 267.3L880.4 268.3L881.2 267.0L882.0 268.2L882.6 267.1L883.4 268.6L884.0 267.6L884.7 268.0L885.3 267.2L886.1 268.7L886.8 268.5L887.6 269.1L888.3 267.6L889.2 267.6L889.7 268.7L890.4 268.9L891.2 269.1L891.7 267.1L892.5 267.0L893.2 265.7L893.9 268.1L894.4 268.4L895.2 266.9L896.0 266.8L896.5 268.1L897.0 268.2L897.7 268.7L898.2 266.7L898.9 267.1L899.5 268.9L900.0 267.6L900.6 267.6L901.4 270.5L902.1 268.5L902.7 267.2L903.2 267.3L903.8 269.0L904.5 269.5L905.0 268.2L905.7 266.4L906.3 267.5L907.0 267.3L907.6 265.4L908.1 267.7L908.8 267.7" stroke="#2a859c" stroke-opacity="0.72" stroke-width="2.05"/>
<path d="M880 268.1L909.5 268.1" stroke="#2a859c" stroke-opacity="0.6" stroke-width="2.6"/>
</g>
<path d="M210.5 199.0h7" stroke="#000" stroke-width="1.15" stroke-opacity=".78"/>
<rect x="210.5" y="171.5" width="699" height="145" fill="none" stroke="#000" stroke-width="1.15"/>
<text transform="translate(205.7 177.2) scale(.88 1)" text-anchor="end" class="tl">10</text>
<text transform="translate(205.7 190.2) scale(.88 1)" text-anchor="end" class="tl">5</text>
<text transform="translate(205.7 203.1) scale(.88 1)" text-anchor="end" class="tl">0</text>
<text transform="translate(205.7 216.0) scale(.88 1)" text-anchor="end" class="tl">-5</text>
<text transform="translate(205.7 229.0) scale(.88 1)" text-anchor="end" class="tl">-10</text>
<text transform="translate(205.7 241.9) scale(.88 1)" text-anchor="end" class="tl">-15</text>
<text transform="translate(205.7 254.9) scale(.88 1)" text-anchor="end" class="tl">-20</text>
<text transform="translate(205.7 267.8) scale(.88 1)" text-anchor="end" class="tl">-25</text>
<text transform="translate(205.7 280.8) scale(.88 1)" text-anchor="end" class="tl">-30</text>
<text transform="translate(205.7 293.8) scale(.88 1)" text-anchor="end" class="tl">-35</text>
<text transform="translate(205.7 306.7) scale(.88 1)" text-anchor="end" class="tl">-40</text>
<text transform="translate(205.7 319.6) scale(.88 1)" text-anchor="end" class="tl">-45</text>
<text transform="translate(913.5 186.3) scale(.88 1)" class="tl">150</text>
<text transform="translate(913.5 206.6) scale(.88 1)" class="tl">100</text>
<text transform="translate(913.5 227.0) scale(.88 1)" class="tl">50</text>
<text transform="translate(913.5 247.4) scale(.88 1)" class="tl">0</text>
<text transform="translate(913.5 267.8) scale(.88 1)" class="tl">-50</text>
<text transform="translate(913.5 288.1) scale(.88 1)" class="tl">-100</text>
<text transform="translate(913.5 308.5) scale(.88 1)" class="tl">-150</text>
<text transform="translate(211.0 337.8) scale(.9 1)" text-anchor="middle" class="tl">1</text>
<text transform="translate(371.9 337.8) scale(.9 1)" text-anchor="middle" class="tl">10</text>
<text transform="translate(532.9 337.8) scale(.9 1)" text-anchor="middle" class="tl">100</text>
<text transform="translate(693.9 337.8) scale(.9 1)" text-anchor="middle" class="tl">1000</text>
<text transform="translate(854.9 337.8) scale(.9 1)" text-anchor="middle" class="tl">10000</text>
<text transform="translate(187.3 244.0) rotate(-90)" text-anchor="middle" class="tl" textLength="45" lengthAdjust="spacingAndGlyphs">Gain (dB)</text>
<text transform="translate(945.6 244.0) rotate(-90)" text-anchor="middle" class="tl" textLength="57" lengthAdjust="spacingAndGlyphs">Phase (deg)</text><clipPath id="c210_385"><rect x="210.5" y="385.5" width="699" height="145"/></clipPath>
<text x="558.7" y="373.9" text-anchor="middle" font-weight="bold" font-size="16.6" fill="#000" textLength="126.5" lengthAdjust="spacingAndGlyphs">Mono channel 3</text>
<path d="M210.5 392.6h7M210.5 414.5h7M210.5 436.4h7M210.5 458.3h7M210.5 480.2h7M210.5 502.1h7M210.5 524.0h7M909.5 396.5h-7M909.5 416.9h-7M909.5 437.2h-7M909.5 457.6h-7M909.5 478.0h-7M909.5 498.4h-7M909.5 518.7h-7M210.50 530.5v7M258.50 530.5v4M286.50 530.5v4M306.50 530.5v4M322.50 530.5v4M335.50 530.5v4M346.50 530.5v4M355.50 530.5v4M363.50 530.5v4M370.50 530.5v7M419.50 530.5v4M447.50 530.5v4M467.50 530.5v4M483.50 530.5v4M496.50 530.5v4M506.50 530.5v4M516.50 530.5v4M524.50 530.5v4M531.50 530.5v7M580.50 530.5v4M608.50 530.5v4M644.50 530.5v4M657.50 530.5v4M667.50 530.5v4M677.50 530.5v4M685.50 530.5v4M692.50 530.5v7M741.50 530.5v4M769.50 530.5v4M789.50 530.5v4M818.50 530.5v4M828.50 530.5v4M838.50 530.5v4M846.50 530.5v4M853.50 530.5v7M902.50 530.5v4" stroke="#000" stroke-width="1.15" fill="none"/>
<g clip-path="url(#c210_385)" fill="none" stroke-linejoin="round" stroke-linecap="round">
<path d="M210.5 392.6H909.5" stroke="#e8272e" stroke-width="2.2" stroke-linecap="butt"/>
<path d="M210.7 454.0L214.7 453.9L220.4 453.7L226.9 453.5L233.6 453.3L240.7 453.1L248.4 452.9L255.8 452.7L262.1 452.4L266.7 452.1L270.1 451.7L273.2 451.3L276.4 450.8L280.0 450.2L283.5 449.5L287.1 448.8L290.7 448.1L294.3 447.4L297.9 446.6L301.4 445.9L305.0 445.2L308.7 444.6L312.5 444.2L316.1 443.7L319.3 443.3L321.8 443.0L323.8 442.7L325.8 442.4L327.9 441.9L330.3 441.1L332.7 440.2L335.4 439.2L338.3 438.1L341.8 436.9L345.8 435.7L349.6 434.5L352.6 433.5L354.5 432.8L355.6 432.4L356.5 431.9L357.4 431.4L358.5 430.7L359.4 429.9L360.5 429.2L361.7 428.4L363.1 427.6L364.7 426.8L366.5 426.0L368.3 425.5L370.4 425.3L372.7 425.4L374.9 425.5L376.9 425.5L378.6 425.4L380.0 425.2L381.3 424.8L382.6 424.1L383.9 422.9L385.1 421.3L386.2 419.5L387.4 417.9L388.6 416.4L389.8 414.9L390.9 413.4L392.1 412.2L393.3 411.2L394.5 410.3L395.7 409.6L396.9 408.9L398.1 408.3L399.2 407.8L400.4 407.2L401.7 406.5L403.3 405.4L405.0 404.1L406.7 402.8L408.3 401.7L409.6 401.1L410.8 400.7L412.0 400.3L413.1 399.8L414.2 399.0L415.3 398.1L416.4 397.2L417.4 396.5L418.3 396.0L419.1 395.7L419.9 395.5L420.7 395.5L421.6 395.7L422.4 396.1L423.4 396.6L424.5 397.2L425.8 397.8L427.2 398.6L428.7 399.4L430.2 400.3L431.6 401.3L433.1 402.4L434.6 403.5L436.0 404.6L437.5 405.7L438.9 406.7L440.3 407.6L441.7 408.2L442.9 408.4L444.0 408.2L445.1 407.8L446.4 407.4L447.9 406.8L449.7 405.9L451.4 405.1L453.1 404.6L454.8 404.3L456.5 404.3L458.0 404.4L459.3 404.6L460.1 405.1L460.6 405.7L461.1 406.4L461.7 407.0L462.5 407.3L463.5 407.3L464.5 407.5L465.5 407.9L466.6 408.7L467.8 409.7L469.1 410.9L470.2 412.2L471.2 413.8L472.2 415.6L473.1 417.4L474.0 418.9L474.7 420.0L475.4 421.0L476.1 421.6L476.9 422.0L477.9 421.9L479.1 421.4L480.4 420.8L481.7 420.3L483.3 419.8L485.0 419.3L486.6 418.8L487.9 418.7L488.7 418.9L489.1 419.3L489.4 419.9L489.8 420.8L490.2 422.0L490.6 423.6L491.1 425.2L491.7 426.5L492.6 427.3L493.7 427.9L494.9 428.4L496.0 428.9L497.0 429.5L497.9 430.1L498.9 430.6L499.8 430.6L500.7 429.9L501.6 428.6L502.6 427.5L503.6 427.0L504.8 427.6L506.2 428.9L507.4 430.3L508.3 431.2L509.4 434.1L510.7 437.4L511.4 439.7L512.1 441.2L513.3 441.3L514.5 440.2L515.4 437.6L516.4 435.0L517.8 433.9L519.3 433.9L520.3 435.6L521.2 438.3L522.0 441.7L523.1 445.0L524.9 446.6L526.9 447.9L528.4 449.7L529.8 451.7L531.2 454.3L532.6 456.0L533.8 454.7L535.0 452.6L536.4 451.5L537.9 451.2L539.3 452.4L540.7 454.0L541.9 454.7L543.1 455.5L544.5 457.6L546.0 459.1L547.6 457.7L549.3 456.4L550.9 457.7L552.6 460.2L554.6 463.9L556.4 466.4L557.4 464.7L558.3 461.2L559.5 456.9L560.7 453.6L561.9 454.3L563.1 456.4L564.5 458.7L566.0 460.7L567.4 460.6L568.8 460.7L570.2 464.0L571.7 466.9L573.5 465.8L575.5 464.2L577.9 464.0L580.2 466.0L581.8 474.0L583.1 480.7L584.2 477.1L585.5 471.7L587.8 471.5L590.2 471.7L592.2 468.4L594.0 466.0L595.8 469.9L597.4 473.6L598.5 470.0L599.8 466.0L601.9 467.2L604.0 469.8L605.1 472.1L606.0 473.6L607.0 472.4L608.3 470.7L610.4 469.6L612.6 470.7L613.9 478.3L615.0 485.0L616.4 483.0L617.9 478.3L619.3 474.5L620.7 471.7L622.3 471.1L624.0 472.6L625.8 477.9L627.4 482.1L628.1 478.0L628.8 473.6L630.4 476.5L632.6 480.2L635.5 479.6L638.3 478.3L640.4 478.3L642.1 479.8L643.1 485.4L644.0 489.8L645.4 486.4L646.9 482.1L648.2 483.3L649.8 485.0L652.1 483.2L654.5 481.7L656.9 484.0L658.8 486.7L664.5 485.7L666.6 486.2L669.6 486.9L672.1 487.6L673.5 488.4L674.6 489.3L676.0 490.0L678.3 490.5L680.9 490.9L683.6 491.4L686.1 492.3L688.5 493.5L691.2 494.3L694.2 494.6L697.5 494.6L700.7 494.8L703.9 495.5L707.0 496.4L710.2 497.1L713.5 497.4L716.9 497.6L719.8 497.9L721.9 498.5L723.5 499.3L725.5 499.8L728.1 499.9L730.9 499.8L734.0 500.0L737.3 500.7L740.9 501.6L744.5 502.4L748.2 502.9L752.0 503.2L756.0 503.6L760.4 504.1L765.1 504.7L769.3 505.2L772.7 505.7L775.6 506.2L778.8 506.7L782.4 507.1L786.3 507.4L790.2 507.8L794.3 508.2L798.4 508.6L802.6 509.0L806.5 509.3L810.5 509.7L815.0 510.0L820.2 510.3L826.0 510.6L833.0 511.0L841.8 511.5L851.8 512.1L861.7 512.6L871.5 512.9L881.2 513.0L890.0 513.1L897.9 513.2L904.8 513.3L909.5 513.4" stroke="#5a8c2f" stroke-width="2.05"/>
<path d="M210.7 485.0L213.0 484.7L216.3 484.3L220.2 483.8L224.0 483.3L228.0 482.9L232.3 482.4L236.5 481.9L240.2 481.4L243.1 480.7L245.5 480.0L247.6 479.2L249.8 478.6L252.0 478.0L254.2 477.5L256.3 477.1L258.3 476.9L260.1 476.8L261.8 476.8L263.4 477.0L265.0 477.6L266.7 478.5L268.4 479.8L270.0 481.2L271.7 482.9L273.4 484.9L275.1 487.2L276.8 489.5L278.3 491.4L279.7 493.0L280.9 494.3L282.1 495.4L283.1 496.2L283.9 496.8L284.6 497.2L285.3 497.3L286.0 497.1L286.9 496.7L287.8 496.1L288.8 495.1L289.8 493.8L290.9 491.9L292.1 489.5L293.3 487.0L294.5 484.8L295.6 482.8L296.8 481.0L297.8 479.3L298.8 478.1L299.6 477.3L300.3 476.9L301.0 476.7L301.7 476.7L302.5 476.8L303.2 477.1L304.1 477.7L305.0 478.6L306.1 480.1L307.3 482.0L308.6 484.0L309.8 485.7L311.0 487.1L312.1 488.5L313.3 489.5L314.5 490.0L315.7 489.8L316.9 489.0L318.1 488.0L319.3 487.1L320.5 486.4L321.6 485.6L322.8 485.0L324.0 484.8L325.2 485.0L326.4 485.6L327.6 486.4L328.8 487.1L330.1 487.9L331.4 488.9L332.8 489.7L334.0 490.0L335.2 489.7L336.2 488.8L337.3 487.9L338.3 487.1L339.3 486.5L340.2 486.0L341.2 485.6L342.1 485.4L343.1 485.6L344.1 486.0L345.0 486.6L346.0 487.1L346.9 487.7L347.9 488.3L348.8 488.9L349.8 489.0L350.9 488.7L352.1 488.0L353.3 487.2L354.5 486.2L355.6 485.1L356.7 483.7L357.8 482.4L358.8 481.4L359.7 480.6L360.5 479.9L361.3 479.5L362.1 479.5L362.9 480.0L363.6 481.0L364.3 482.2L365.0 483.3L365.7 484.6L366.5 486.0L367.2 487.1L367.9 487.6L368.6 487.0L369.3 485.8L370.0 484.2L370.7 482.9L371.5 481.8L372.3 480.7L373.1 479.7L374.0 479.2L374.9 479.1L375.9 479.5L376.9 480.0L377.9 480.5L378.9 481.1L380.0 481.9L381.0 482.6L382.1 482.9L383.2 482.6L384.2 481.9L385.3 481.2L386.4 480.8L387.4 480.9L388.4 481.3L389.5 481.7L390.7 481.7L392.3 481.1L394.1 480.1L395.9 479.2L397.4 478.9L398.5 479.4L399.3 480.4L400.0 481.5L400.7 482.4L401.5 483.0L402.3 483.5L403.1 483.9L404.0 484.0L405.0 483.7L406.1 483.0L407.2 482.3L408.3 481.9L409.5 481.9L410.8 482.1L412.0 482.3L413.1 482.4L414.0 482.0L414.7 481.4L415.4 481.0L416.0 481.0L416.6 481.9L417.2 483.4L417.7 484.9L418.3 485.7L418.9 485.5L419.5 484.6L420.1 483.7L420.7 483.3L421.4 483.8L422.1 484.8L422.8 485.7L423.6 486.0L424.5 485.3L425.4 483.9L426.4 482.5L427.4 481.7L428.3 481.7L429.2 482.2L430.2 482.8L431.2 483.3L432.4 483.5L433.6 483.7L434.8 483.8L436.0 483.8L437.0 483.6L437.9 483.3L438.8 483.0L439.8 482.9L440.9 483.1L442.2 483.4L443.4 483.8L444.5 483.8L445.2 483.4L445.7 482.8L446.5 482.1L447.9 481.6L450.4 481.4L453.7 481.4L457.1 481.4L459.8 481.6L461.4 481.9L462.4 482.4L463.5 482.9L465.5 483.3L469.1 483.6L473.8 483.8L478.4 484.0L481.7 484.0L483.0 483.8L483.1 483.5L482.9 483.1L483.6 482.9L485.6 482.8L488.4 482.7L491.2 482.8L493.1 482.9L493.8 483.3L493.8 483.8L493.6 484.3L494.0 484.6L495.2 484.6L497.0 484.3L498.6 484.0L499.8 483.8L500.3 478.0L500.7 475.7L501.2 479.0L501.7 483.3L506.4 484.0L507.4 486.0L508.8 481.9L510.7 483.3L511.7 497.1L513.1 487.6L515.0 484.8L517.0 483.0L518.5 485.2L520.0 482.8" stroke="#2a859c" stroke-opacity="0.72" stroke-width="2.05"/>
<path d="M519.5 482.1L521.7 486.6L523.1 479.6L524.9 498.8L526.1 481.1L527.5 477.3L528.8 477.2L530.6 497.8L532.5 477.4L534.4 509.2L535.2 483.0L537.1 488.8L538.5 475.8L539.9 491.1L540.9 477.4L541.7 498.6L543.1 467.4L544.4 512.0L545.1 478.4L545.8 493.1L546.8 467.3L547.6 510.2L548.3 511.5L549.0 468.2L550.1 466.7L550.9 510.9L551.5 488.6L552.7 467.2L554.0 479.9L554.7 492.3L555.8 477.6L556.5 481.9L557.4 511.2L558.0 478.6L559.2 480.7L560.0 467.9L561.3 510.5L562.1 466.5L562.7 511.4L563.5 470.8L564.2 470.9L565.2 498.5L566.5 466.4L567.1 497.9L568.2 480.0L569.5 466.6L570.5 513.4L571.2 467.6L572.1 512.6L572.9 481.8L573.7 498.8L574.6 468.0L575.6 480.8L576.7 468.4L577.7 492.9L578.8 479.8L579.6 467.8L580.5 499.7L581.4 466.8L582.0 511.7L582.9 471.1L583.9 508.7L585.1 467.6L586.1 503.8L586.6 471.6L587.4 496.4L587.8 468.2L588.7 494.1L589.5 468.1L590.1 496.4L591.0 505.3L591.5 494.7L592.4 467.5L593.5 490.9L594.3 477.4L594.9 495.7L595.5 467.9L596.0 512.4L596.5 476.1L597.0 470.9L597.5 510.8L598.0 467.3L599.0 499.7L599.9 466.9L600.9 504.6L601.5 510.9L602.1 467.1L602.9 496.8L603.5 470.9L604.6 510.6L605.1 470.5L605.9 510.4L606.5 468.4L607.2 512.3L607.6 468.4L608.2 497.7L608.7 480.3L609.7 495.1L610.7 477.1L611.3 505.5L611.9 468.4L612.8 471.9L613.3 511.7L613.8 510.1L614.3 467.1L615.0 505.6L615.6 467.9L616.6 467.6L617.3 500.7L617.7 467.7L618.3 508.1L619.1 510.9L619.9 468.6L620.3 497.2L621.1 477.0L621.5 510.0L622.4 467.5L622.8 512.7L623.6 468.6L624.4 498.7L625.0 469.6L625.9 511.8L626.5 478.0L627.2 471.0L627.6 512.8L628.3 470.1L628.8 511.2L629.6 503.1L630.2 467.6L631.0 500.8L631.7 467.5L632.3 501.0L632.7 467.1L633.1 512.4L633.7 467.7L634.4 511.7L634.8 511.2L635.2 467.7L636.0 512.3L636.4 467.2L637.3 511.7L638.1 471.2L638.5 498.2L638.9 468.4L639.6 511.9L640.1 467.9L640.8 476.2L641.4 510.5L642.3 468.6L642.9 510.9L643.3 467.0L644.1 510.5L644.9 467.2L645.3 512.8L645.6 511.0L646.1 470.7L646.5 510.7L647.0 511.6L647.5 512.4L648.2 468.6L648.9 512.0L649.7 467.1L650.1 509.7L650.7 474.0L651.3 511.9L651.9 468.9L652.7 511.1L653.3 510.7L654.0 467.2L654.5 510.4L655.3 472.2L655.6 466.9L656.0 469.0L656.8 511.8L657.4 466.9L657.9 468.3L658.4 506.6L659.0 512.5L659.5 510.6L660.0 468.7L660.6 511.4L661.2 468.7L661.8 510.7L662.2 473.8L662.9 510.2L663.4 510.9L664.0 509.8L664.7 467.6L665.0 504.5L665.4 467.5L666.0 510.5L666.3 467.5L666.9 510.3L667.3 468.1L667.8 507.6L668.4 467.9L669.0 510.0L669.3 467.2L669.6 511.4L669.9 468.1L670.2 468.6" stroke="#2a859c" stroke-opacity="0.7" stroke-width="2.1" stroke-linejoin="miter"/>
<linearGradient id="bg3" gradientUnits="userSpaceOnUse" x1="669.5" y1="0" x2="909.5" y2="0"><stop offset="0.000" stop-color="#2a859c" stop-opacity="0.7"/><stop offset="0.127" stop-color="#2a859c" stop-opacity="0.72"/><stop offset="0.421" stop-color="#2a859c" stop-opacity="0.78"/><stop offset="0.588" stop-color="#2a859c" stop-opacity="0.86"/><stop offset="0.794" stop-color="#2a859c" stop-opacity="0.95"/><stop offset="1.000" stop-color="#2a859c" stop-opacity="1.0"/></linearGradient>
<path d="M669.5 467.7L670.5 466.9L671.5 466.9L672.5 466.7L673.5 466.8L674.5 467.8L675.5 467.3L676.5 468.2L677.5 467.5L678.5 467.8L679.5 467.1L680.5 466.8L681.5 468.0L682.5 467.2L683.5 467.5L684.5 468.1L685.5 467.2L686.5 466.8L687.5 467.8L688.5 468.0L689.5 468.1L690.5 467.9L691.5 466.9L692.5 467.0L693.5 467.5L694.5 468.3L695.5 467.6L696.5 468.0L697.5 467.2L698.5 467.2L699.5 467.8L700.5 468.1L701.5 467.5L702.5 467.2L703.5 467.7L704.5 468.2L705.5 467.4L706.5 467.5L707.5 467.5L708.5 466.8L709.5 467.9L710.5 467.6L711.5 467.4L712.5 467.1L713.5 467.2L714.5 468.1L715.5 467.7L716.5 467.1L717.5 467.8L718.5 467.7L719.5 467.1L720.5 467.9L721.5 467.8L722.5 466.7L723.5 466.7L724.5 468.0L725.5 468.1L726.5 467.3L727.5 466.7L728.5 466.7L729.5 467.5L730.5 466.7L731.5 467.8L732.5 466.9L733.5 467.4L734.5 467.8L735.5 467.7L736.5 467.6L737.5 467.6L738.5 468.1L739.5 467.8L740.5 466.8L741.5 466.7L742.5 466.9L743.5 466.9L744.5 466.9L745.5 467.7L746.5 468.0L747.5 466.9L748.5 466.8L749.5 467.3L750.5 467.0L751.5 467.5L752.5 466.5L753.5 467.7L754.5 466.8L755.5 466.9L756.5 467.6L757.5 466.9L758.5 467.9L759.5 467.9L760.5 467.4L761.5 467.8L762.5 466.7L763.5 467.9L764.5 466.9L765.5 467.0L766.5 466.9L767.5 467.2L768.5 466.5L769.5 467.8L770.5 466.8L771.5 467.6L772.5 466.8L773.5 467.4L774.5 466.6L775.5 466.4L776.5 467.7L777.5 467.2L778.5 466.5L779.5 466.9L780.5 466.5L781.5 466.4L782.5 467.6L783.5 467.0L784.5 467.0L785.5 467.7L786.5 467.6L787.5 467.5L788.5 466.3L789.5 466.3L790.5 466.4L791.5 467.4L792.5 466.4L793.5 466.8L794.5 466.5L795.5 466.7L796.5 466.9L797.5 466.8L798.5 467.1L799.5 467.0L800.5 467.1L801.5 466.3L802.5 466.7L803.5 466.7L804.5 467.0L805.5 467.0L806.5 466.6L807.5 466.3L808.5 466.9L809.5 465.8L810.5 466.6L811.5 465.9L812.5 465.9L813.5 466.5L814.5 466.7L815.5 465.8L816.5 466.1L817.5 466.6L818.5 466.5L819.5 465.7L820.5 465.5L821.5 466.5L822.5 465.2L823.5 465.5L824.5 465.6L825.5 465.5L826.5 466.4L827.5 466.3L828.5 465.5L829.5 466.3L830.5 466.5L831.5 465.9L832.5 465.1L833.5 465.8L834.5 466.4L835.5 465.6L836.5 465.2L837.5 465.7L838.5 465.3L839.5 464.9L840.5 466.2L841.5 464.6L842.5 464.8L843.5 466.0L844.5 465.9L845.5 465.5L846.5 464.8L847.5 465.3L848.5 464.6L849.5 465.2L850.5 464.5L851.5 465.1L852.5 465.3L853.5 465.3L854.5 464.7L855.5 465.2L856.5 465.6L857.5 465.2L858.5 464.6L859.5 464.9L860.5 464.6L861.5 465.3L862.5 464.5L863.5 464.1L864.5 465.4L865.5 464.0L866.5 463.8L867.5 464.7L868.5 464.8L869.5 465.1L870.5 465.0L871.5 463.9L872.5 465.0L873.5 463.9L874.5 463.9L875.5 465.0L876.5 463.7L877.5 464.8L878.5 463.3L879.5 463.8L880.5 464.7L881.5 463.5L882.5 464.8L883.5 463.9L884.5 463.3L885.5 463.2L886.5 463.8L887.5 464.4L888.5 463.2L889.5 463.2L890.5 463.6L891.5 464.3L892.5 463.1L893.5 463.3L894.5 463.0L895.5 462.9L896.5 464.0L897.5 463.7L898.5 463.0L899.5 463.8L900.5 464.0L901.5 463.2L902.5 462.7L903.5 463.5L904.5 462.7L905.5 462.7L906.5 463.9L907.5 462.4L908.5 462.8L909.5 463.8L909.5 463.3L909.5 508.1L909.5 508.7L908.5 509.4L907.5 507.6L906.5 508.1L905.5 508.8L904.5 508.4L903.5 507.9L902.5 507.3L901.5 508.1L900.5 508.8L899.5 509.7L898.5 509.1L897.5 509.5L896.5 507.4L895.5 508.0L894.5 507.6L893.5 509.5L892.5 508.8L891.5 508.3L890.5 508.2L889.5 508.0L888.5 508.7L887.5 509.5L886.5 509.0L885.5 508.4L884.5 507.6L883.5 507.9L882.5 508.2L881.5 508.0L880.5 508.3L879.5 507.6L878.5 509.0L877.5 508.3L876.5 509.6L875.5 509.0L874.5 508.5L873.5 508.4L872.5 508.8L871.5 509.2L870.5 507.9L869.5 509.3L868.5 507.6L867.5 509.0L866.5 509.2L865.5 509.0L864.5 509.0L863.5 508.7L862.5 510.0L861.5 510.2L860.5 508.0L859.5 509.1L858.5 510.4L857.5 510.7L856.5 510.5L855.5 509.8L854.5 511.0L853.5 509.5L852.5 510.4L851.5 510.8L850.5 509.9L849.5 510.6L848.5 511.3L847.5 511.4L846.5 510.8L845.5 509.2L844.5 511.7L843.5 511.5L842.5 510.7L841.5 511.2L840.5 511.4L839.5 510.1L838.5 509.7L837.5 510.5L836.5 511.3L835.5 511.7L834.5 510.5L833.5 511.9L832.5 509.6L831.5 510.8L830.5 511.7L829.5 512.1L828.5 509.8L827.5 510.0L826.5 511.6L825.5 509.9L824.5 510.0L823.5 511.1L822.5 512.1L821.5 510.1L820.5 511.6L819.5 511.7L818.5 511.2L817.5 511.4L816.5 511.2L815.5 512.1L814.5 510.5L813.5 512.4L812.5 512.4L811.5 512.5L810.5 511.1L809.5 510.5L808.5 511.7L807.5 512.3L806.5 510.6L805.5 512.5L804.5 512.3L803.5 511.8L802.5 511.5L801.5 512.0L800.5 510.3L799.5 511.7L798.5 511.0L797.5 512.3L796.5 511.2L795.5 510.6L794.5 511.7L793.5 512.9L792.5 510.9L791.5 512.9L790.5 512.0L789.5 512.0L788.5 512.1L787.5 511.3L786.5 512.3L785.5 511.7L784.5 511.7L783.5 510.5L782.5 510.6L781.5 512.0L780.5 512.6L779.5 512.7L778.5 511.8L777.5 512.3L776.5 511.8L775.5 512.6L774.5 510.8L773.5 512.2L772.5 510.9L771.5 511.9L770.5 512.4L769.5 512.7L768.5 511.8L767.5 511.0L766.5 511.6L765.5 512.8L764.5 510.7L763.5 511.7L762.5 512.5L761.5 511.4L760.5 511.9L759.5 511.1L758.5 511.9L757.5 511.0L756.5 511.1L755.5 512.2L754.5 511.0L753.5 512.3L752.5 510.9L751.5 510.8L750.5 512.4L749.5 511.7L748.5 513.0L747.5 510.6L746.5 511.0L745.5 512.0L744.5 511.2L743.5 512.0L742.5 512.7L741.5 512.9L740.5 510.8L739.5 511.3L738.5 512.6L737.5 511.5L736.5 511.6L735.5 511.1L734.5 511.7L733.5 510.6L732.5 510.8L731.5 510.7L730.5 512.8L729.5 512.2L728.5 512.8L727.5 512.6L726.5 510.9L725.5 511.0L724.5 511.8L723.5 512.4L722.5 511.6L721.5 511.5L720.5 511.3L719.5 511.4L718.5 512.8L717.5 511.5L716.5 511.8L715.5 510.5L714.5 512.5L713.5 511.3L712.5 511.2L711.5 511.5L710.5 511.9L709.5 512.5L708.5 513.0L707.5 512.4L706.5 511.2L705.5 510.6L704.5 511.1L703.5 511.6L702.5 510.9L701.5 512.6L700.5 511.5L699.5 511.4L698.5 512.1L697.5 512.1L696.5 511.8L695.5 513.0L694.5 510.8L693.5 512.2L692.5 510.8L691.5 511.7L690.5 512.9L689.5 511.2L688.5 513.0L687.5 512.5L686.5 510.8L685.5 512.8L684.5 512.9L683.5 511.5L682.5 511.3L681.5 510.9L680.5 512.5L679.5 513.0L678.5 511.7L677.5 513.0L676.5 510.9L675.5 512.8L674.5 512.5L673.5 512.4L672.5 512.5L671.5 512.3L670.5 513.1L669.5 512.7Z" fill="url(#bg3)" stroke="none"/>
<path d="M633.9 467.8V511.2M674.5 468.1V511.0M700.1 468.3V510.9M718.7 468.2V510.9M733.5 468.1V510.9M745.6 468.0V510.9M756.0 467.9V510.9M765.0 467.8V510.9M773.0 467.8V510.9M780.1 467.7V510.9M786.6 467.7V510.9M792.6 467.6V510.9M798.0 467.5V510.8M803.1 467.3V510.7M807.8 467.2V510.6M812.3 467.0V510.5M816.5 466.9V510.4M820.4 466.8V510.3M824.1 466.6V510.2M827.7 466.5V510.1M831.0 466.4V510.0M834.2 466.3V509.9M837.3 466.2V509.8M840.2 466.1V509.7M843.1 466.0V509.7M845.8 465.9V509.6M848.4 465.9V509.5M850.9 465.8V509.4M853.3 465.7V509.1M855.7 465.6V508.9M858.0 465.5V508.6M860.2 465.5V508.3M862.3 465.4V508.1M864.4 465.3V507.9M866.4 465.2V507.8M868.3 465.2V507.8M870.2 465.1V507.8M872.1 465.1V507.8M873.9 465.0V507.8M875.6 464.9V507.8M877.4 464.9V507.7M879.0 464.8V507.7M880.7 464.8V507.7M882.3 464.7V507.7M883.8 464.7V507.7M885.3 464.6V507.7M886.8 464.6V507.7M888.3 464.5V507.7M889.7 464.5V507.7M891.1 464.4V507.7M892.5 464.4V507.7M893.9 464.3V507.7M895.2 464.3V507.7M896.5 464.2V507.7M897.8 464.2V507.7M899.0 464.2V507.6M900.3 464.1V507.6M901.5 464.1V507.6M902.7 464.0V507.6M903.8 464.0V507.6M905.0 464.0V507.6M906.1 463.9V507.6M907.2 463.9V507.6M908.3 463.8V507.6M909.4 463.8V507.6" stroke="#1f7b92" stroke-opacity="0.6" stroke-width="1.1" stroke-linecap="butt"/>
<path d="M903.2 463.5H909.5V517.1H903.2Z" fill="#2a859c" stroke="none"/>
</g>
<path d="M210.5 392.6h7" stroke="#000" stroke-width="1.15" stroke-opacity=".78"/>
<rect x="210.5" y="385.5" width="699" height="145" fill="none" stroke="#000" stroke-width="1.15"/>
<text transform="translate(206.8 396.3) scale(.88 1)" text-anchor="end" class="tl">0</text>
<text transform="translate(206.8 418.2) scale(.88 1)" text-anchor="end" class="tl">-10</text>
<text transform="translate(206.8 440.1) scale(.88 1)" text-anchor="end" class="tl">-20</text>
<text transform="translate(206.8 462.0) scale(.88 1)" text-anchor="end" class="tl">-30</text>
<text transform="translate(206.8 483.9) scale(.88 1)" text-anchor="end" class="tl">-40</text>
<text transform="translate(206.8 505.8) scale(.88 1)" text-anchor="end" class="tl">-50</text>
<text transform="translate(206.8 527.7) scale(.88 1)" text-anchor="end" class="tl">-60</text>
<text transform="translate(913.5 400.2) scale(.88 1)" class="tl">150</text>
<text transform="translate(913.5 420.6) scale(.88 1)" class="tl">100</text>
<text transform="translate(913.5 440.9) scale(.88 1)" class="tl">50</text>
<text transform="translate(913.5 461.3) scale(.88 1)" class="tl">0</text>
<text transform="translate(913.5 481.7) scale(.88 1)" class="tl">-50</text>
<text transform="translate(913.5 502.1) scale(.88 1)" class="tl">-100</text>
<text transform="translate(913.5 522.4) scale(.88 1)" class="tl">-150</text>
<text transform="translate(211.0 551.8) scale(.9 1)" text-anchor="middle" class="tl">1</text>
<text transform="translate(371.9 551.8) scale(.9 1)" text-anchor="middle" class="tl">10</text>
<text transform="translate(532.9 551.8) scale(.9 1)" text-anchor="middle" class="tl">100</text>
<text transform="translate(693.9 551.8) scale(.9 1)" text-anchor="middle" class="tl">1000</text>
<text transform="translate(854.9 551.8) scale(.9 1)" text-anchor="middle" class="tl">10000</text>
<text transform="translate(187.3 458.0) rotate(-90)" text-anchor="middle" class="tl" textLength="45" lengthAdjust="spacingAndGlyphs">Gain (dB)</text>
<text transform="translate(945.6 458.0) rotate(-90)" text-anchor="middle" class="tl" textLength="57" lengthAdjust="spacingAndGlyphs">Phase (deg)</text><clipPath id="c1005_385"><rect x="1005.5" y="385.5" width="699" height="145"/></clipPath>
<text x="1353.7" y="373.9" text-anchor="middle" font-weight="bold" font-size="16.6" fill="#000" textLength="126.5" lengthAdjust="spacingAndGlyphs">Mono channel 4</text>
<path d="M1005.5 389.0h7M1005.5 412.3h7M1005.5 435.6h7M1005.5 458.9h7M1005.5 482.2h7M1005.5 505.5h7M1005.5 528.8h7M1704.5 396.5h-7M1704.5 416.9h-7M1704.5 437.2h-7M1704.5 457.6h-7M1704.5 478.0h-7M1704.5 498.4h-7M1704.5 518.7h-7M1005.50 530.5v7M1053.50 530.5v4M1081.50 530.5v4M1101.50 530.5v4M1117.50 530.5v4M1130.50 530.5v4M1141.50 530.5v4M1150.50 530.5v4M1158.50 530.5v4M1165.50 530.5v7M1214.50 530.5v4M1242.50 530.5v4M1262.50 530.5v4M1278.50 530.5v4M1291.50 530.5v4M1301.50 530.5v4M1311.50 530.5v4M1319.50 530.5v4M1326.50 530.5v7M1375.50 530.5v4M1403.50 530.5v4M1439.50 530.5v4M1452.50 530.5v4M1462.50 530.5v4M1472.50 530.5v4M1480.50 530.5v4M1487.50 530.5v7M1536.50 530.5v4M1564.50 530.5v4M1584.50 530.5v4M1613.50 530.5v4M1623.50 530.5v4M1633.50 530.5v4M1641.50 530.5v4M1648.50 530.5v7M1697.50 530.5v4" stroke="#000" stroke-width="1.15" fill="none"/>
<g clip-path="url(#c1005_385)" fill="none" stroke-linejoin="round" stroke-linecap="round">
<path d="M1005.5 389.0H1704.5" stroke="#e8272e" stroke-width="2.2" stroke-linecap="butt"/>
<path d="M1005.7 466.2L1009.0 466.1L1013.7 465.9L1019.0 465.7L1023.8 465.5L1028.0 465.4L1032.1 465.3L1036.1 465.3L1040.0 465.2L1043.8 465.1L1047.5 465.1L1051.0 465.0L1054.3 464.8L1057.2 464.5L1059.7 464.1L1062.2 463.6L1064.8 463.1L1067.6 462.5L1070.6 461.8L1073.5 461.1L1076.2 460.5L1078.6 460.1L1080.8 459.9L1083.0 459.7L1085.7 459.5L1089.0 459.3L1092.8 459.2L1096.6 459.1L1100.0 459.0L1102.9 458.8L1105.6 458.6L1108.1 458.3L1110.5 458.1L1112.8 457.9L1114.9 457.7L1117.0 457.5L1119.0 457.1L1121.0 456.5L1123.0 455.6L1124.9 454.8L1126.7 454.1L1128.2 453.6L1129.4 453.2L1130.7 452.9L1132.4 452.7L1134.8 452.6L1137.5 452.6L1140.4 452.6L1142.9 452.6L1145.1 452.5L1147.1 452.4L1148.9 452.2L1150.5 451.9L1151.9 451.3L1153.1 450.5L1154.2 449.6L1155.2 449.0L1156.0 448.6L1156.7 448.4L1157.4 448.2L1158.6 447.9L1160.5 447.5L1162.8 447.2L1165.1 446.7L1167.1 446.0L1168.5 445.1L1169.7 444.1L1170.7 442.8L1171.9 441.2L1173.3 439.1L1174.7 436.7L1176.2 434.1L1177.6 431.7L1179.0 429.5L1180.4 427.3L1181.8 425.2L1183.3 423.1L1184.9 421.0L1186.7 418.8L1188.4 416.7L1190.0 414.6L1191.3 412.5L1192.5 410.4L1193.7 408.3L1194.8 406.5L1195.9 404.9L1197.0 403.5L1198.2 402.3L1199.5 401.2L1201.0 400.3L1202.7 399.6L1204.5 398.9L1206.2 398.4L1207.9 397.9L1209.6 397.5L1211.2 397.2L1212.9 397.0L1214.6 396.9L1216.3 396.8L1218.0 396.8L1219.5 397.0L1220.8 397.3L1222.0 397.8L1223.1 398.4L1224.3 398.9L1225.6 399.5L1226.9 400.1L1228.2 400.6L1229.5 400.8L1230.8 400.5L1232.1 399.8L1233.5 399.0L1234.8 398.4L1236.1 397.9L1237.5 397.4L1238.8 397.0L1240.0 396.8L1241.1 396.9L1242.1 397.1L1243.0 397.5L1243.8 397.9L1244.4 398.4L1244.9 399.0L1245.4 399.7L1246.2 400.3L1247.5 400.9L1249.0 401.4L1250.6 402.0L1251.9 402.7L1252.8 403.4L1253.5 404.2L1254.1 405.0L1254.8 406.0L1255.4 407.2L1256.0 408.6L1256.7 409.9L1257.6 411.0L1258.8 411.7L1260.2 412.1L1261.7 412.5L1262.9 413.1L1263.8 414.0L1264.5 415.0L1265.1 416.1L1265.7 417.4L1266.3 418.9L1266.8 420.6L1267.4 422.2L1268.1 423.6L1269.1 424.5L1270.2 425.2L1271.4 425.8L1272.4 426.5L1273.3 427.5L1274.1 428.6L1274.9 429.5L1275.7 429.8L1276.6 429.3L1277.6 428.2L1278.5 426.9L1279.5 426.0L1280.5 425.5L1281.5 425.2L1282.4 424.9L1283.3 424.6L1284.0 424.0L1284.5 423.2L1285.1 422.6L1285.7 422.4L1286.5 422.9L1287.3 423.9L1288.1 425.0L1289.0 426.0L1289.9 426.8L1290.8 427.5L1291.6 428.3L1292.4 429.3L1293.0 430.7L1293.6 432.3L1294.1 433.9L1294.8 435.5L1295.6 437.0L1296.6 438.4L1297.6 439.8L1298.6 441.2L1299.7 442.5L1301.0 443.8L1302.2 445.0L1303.3 446.0L1304.4 446.7L1305.5 447.2L1306.4 447.6L1307.1 447.9L1309.0 449.0L1311.4 450.0L1313.9 449.3L1316.2 448.6L1318.0 450.0L1319.5 451.4L1320.9 450.9L1322.4 450.5L1324.6 452.0L1326.7 454.3L1328.2 456.7L1329.5 459.5L1330.5 462.7L1331.4 467.1L1332.2 475.3L1332.9 481.9L1333.8 480.7L1334.8 476.7L1335.8 472.7L1336.7 469.0L1337.6 466.5L1338.6 465.7L1339.7 468.1L1341.0 471.9L1342.4 476.9L1343.8 480.0L1345.0 476.2L1346.2 471.0L1347.8 469.2L1349.5 468.1L1351.3 466.4L1353.3 464.8L1355.8 463.3L1358.1 462.7L1359.7 463.7L1361.0 466.2L1362.4 472.1L1363.8 476.7L1365.3 474.2L1366.7 470.0L1367.7 467.5L1368.6 466.7L1369.8 468.6L1371.0 472.9L1372.1 481.9L1373.3 488.6L1374.4 482.9L1375.7 475.7L1377.3 477.1L1379.0 479.5L1380.4 476.6L1381.9 473.8L1383.7 475.5L1385.7 477.6L1387.6 476.0L1389.5 474.8L1391.2 477.7L1392.9 481.4L1395.0 483.8L1397.1 484.8L1398.5 482.5L1400.0 480.0L1402.4 480.1L1404.8 482.4L1406.4 489.2L1407.6 494.8L1408.5 491.5L1409.5 487.1L1411.3 488.3L1413.3 491.0L1414.8 493.9L1416.2 494.8L1417.5 489.1L1419.0 483.3L1421.4 483.5L1423.8 486.2L1425.3 491.0L1426.7 494.8L1428.3 492.6L1430.0 489.0L1431.7 487.3L1433.3 486.2L1434.7 485.0L1436.2 485.2L1438.0 489.0L1440.0 493.8L1441.9 498.3L1443.8 501.0L1445.4 498.9L1447.1 495.7L1449.2 494.1L1451.4 493.8L1453.8 496.3L1455.7 499.0L1461.4 497.1L1462.8 498.2L1464.8 499.8L1467.1 501.0L1469.8 501.4L1472.8 501.6L1475.7 501.9L1478.3 502.8L1480.8 503.9L1483.3 504.8L1485.9 505.1L1488.5 505.1L1491.0 505.2L1493.3 505.5L1495.5 505.8L1497.6 506.2L1499.3 506.6L1500.9 507.1L1503.3 507.6L1507.3 508.2L1512.2 508.9L1516.7 509.5L1520.1 510.0L1523.0 510.4L1526.2 510.7L1530.0 510.9L1534.0 511.1L1537.6 511.4L1540.2 511.9L1542.3 512.6L1545.2 513.1L1549.5 513.3L1554.5 513.3L1559.5 513.5L1564.3 513.9L1569.0 514.4L1573.8 514.8L1578.3 515.1L1582.8 515.4L1588.1 515.7L1595.0 516.0L1602.7 516.4L1610.0 516.7L1615.5 516.9L1620.7 517.1L1628.0 517.3L1639.2 517.6L1652.6 518.0L1666.0 518.3L1680.2 518.5L1694.5 518.5L1704.5 518.6" stroke="#5a8c2f" stroke-width="2.05"/>
<path d="M1005.7 477.1L1007.2 476.1L1009.4 474.6L1011.9 472.9L1014.3 471.4L1016.7 470.0L1019.1 468.5L1021.5 467.2L1023.8 466.2L1025.9 465.6L1027.8 465.2L1029.7 465.0L1031.4 465.0L1033.0 465.0L1034.4 465.1L1035.8 465.5L1037.1 466.2L1038.3 467.3L1039.5 468.7L1040.7 470.4L1041.9 472.4L1043.3 474.7L1044.7 477.3L1046.2 480.1L1047.6 482.9L1049.0 485.8L1050.5 488.8L1051.9 491.8L1053.3 494.3L1054.6 496.4L1055.8 498.3L1057.0 499.8L1058.1 501.0L1059.1 501.9L1060.0 502.5L1060.9 502.7L1061.9 502.7L1063.0 502.4L1064.2 501.8L1065.4 500.9L1066.7 499.5L1068.1 497.5L1069.5 494.9L1071.0 492.1L1072.4 489.5L1073.8 487.0L1075.3 484.4L1076.7 482.0L1078.1 480.0L1079.4 478.6L1080.6 477.6L1081.7 476.8L1082.9 476.2L1084.0 475.6L1085.1 475.3L1086.2 475.0L1087.6 475.0L1089.3 475.2L1091.2 475.7L1093.2 476.2L1095.2 476.7L1097.2 477.0L1099.2 477.3L1101.2 477.7L1102.9 478.1L1104.3 478.6L1105.5 479.2L1106.6 480.0L1107.6 481.0L1108.6 482.2L1109.6 483.6L1110.5 485.4L1111.4 487.6L1112.4 490.6L1113.4 494.2L1114.3 497.8L1115.2 501.0L1116.0 503.6L1116.8 506.0L1117.5 508.0L1118.1 509.5L1118.6 510.5L1119.1 511.2L1119.5 511.4L1120.0 511.4L1120.5 511.2L1120.9 510.8L1121.4 510.0L1121.9 508.6L1122.6 506.3L1123.3 503.3L1124.1 500.1L1124.8 497.1L1125.5 494.2L1126.3 491.3L1127.0 488.7L1127.6 486.7L1128.1 485.4L1128.6 484.7L1129.0 484.5L1129.5 484.8L1130.1 485.6L1130.6 486.8L1131.3 488.5L1131.9 490.5L1132.6 493.1L1133.4 496.2L1134.1 499.4L1134.8 501.9L1135.4 503.8L1136.0 505.4L1136.6 506.5L1137.1 507.1L1137.6 507.1L1138.0 506.7L1138.5 505.6L1139.0 503.8L1139.7 500.9L1140.4 497.2L1141.2 493.1L1141.9 489.5L1142.6 486.2L1143.4 483.0L1144.1 480.2L1144.8 478.1L1145.4 476.8L1145.9 476.2L1146.5 475.9L1147.1 476.0L1147.9 476.3L1148.7 477.0L1149.6 477.9L1150.5 479.0L1151.3 480.3L1152.2 481.9L1153.0 483.5L1153.8 484.8L1154.6 486.0L1155.4 487.2L1156.2 488.0L1157.1 488.1L1158.0 487.2L1159.0 485.5L1160.0 483.5L1161.0 481.9L1162.0 480.5L1163.1 479.1L1164.2 478.1L1165.2 477.6L1166.1 477.8L1167.0 478.5L1167.8 479.6L1168.6 481.0L1169.3 482.9L1169.9 485.3L1170.5 487.6L1171.0 489.5L1171.5 490.8L1172.0 491.8L1172.4 492.4L1172.9 492.4L1173.4 491.6L1174.0 490.1L1174.6 488.3L1175.2 486.7L1175.9 485.1L1176.6 483.4L1177.3 481.9L1178.1 481.0L1178.8 481.0L1179.6 481.6L1180.4 482.5L1181.4 483.3L1182.7 484.2L1184.3 485.3L1185.8 486.2L1187.1 486.7L1188.0 486.5L1188.7 485.9L1189.3 485.1L1190.0 484.3L1190.7 483.3L1191.4 482.0L1192.1 480.9L1192.9 480.5L1193.7 481.1L1194.5 482.5L1195.4 483.8L1196.2 484.3L1197.0 483.3L1197.8 481.5L1198.6 479.6L1199.5 478.6L1200.4 478.9L1201.4 479.9L1202.3 481.1L1203.3 481.9L1204.1 482.2L1204.8 482.4L1205.7 482.4L1207.1 482.4L1209.0 482.3L1211.2 482.1L1213.8 482.0L1216.7 481.9L1220.2 482.0L1224.2 482.2L1228.0 482.4L1231.0 482.4L1232.8 482.1L1233.9 481.7L1234.7 481.2L1235.7 481.1L1236.9 481.4L1238.1 482.0L1239.3 482.6L1240.5 482.9L1241.5 482.7L1242.3 482.3L1243.4 481.8L1245.2 481.6L1248.3 481.7L1252.3 482.0L1256.4 482.3L1259.5 482.4L1261.4 482.2L1262.6 481.9L1263.5 481.6L1264.3 481.6L1265.1 482.1L1265.8 482.9L1266.4 483.6L1267.1 484.0L1267.9 483.8L1268.8 483.2L1269.7 482.6L1270.5 482.4L1271.1 482.8L1271.6 483.5L1272.2 484.2L1272.9 484.6L1274.0 484.5L1275.4 484.1L1276.7 483.6L1277.6 483.3L1278.4 480.0L1279.0 477.1L1279.7 480.0L1280.5 481.9L1285.2 483.3L1288.0 482.4L1292.9 484.8L1296.7 485.7L1297.8 488.5L1300.0 487.6L1302.4 484.3L1303.3 488.5L1305.7 481.9L1307.1 489.5L1309.0 490.5" stroke="#2a859c" stroke-opacity="0.72" stroke-width="2.05"/>
<path d="M1309.0 485.7L1310.6 501.2L1311.8 482.4L1314.0 488.6L1316.0 481.2L1317.5 490.7L1319.1 468.1L1320.8 492.4L1322.6 489.1L1323.5 485.0L1324.4 490.5L1326.1 495.5L1327.5 477.6L1328.9 493.4L1330.0 489.3L1331.3 478.3L1332.9 491.3L1334.0 466.6L1334.9 493.9L1335.6 465.9L1336.5 490.9L1337.6 481.9L1339.0 496.0L1339.8 482.8L1341.1 465.8L1342.7 479.2L1344.3 511.0L1345.2 480.7L1346.6 490.5L1348.1 478.5L1349.7 476.4L1351.1 492.1L1352.7 478.1L1354.2 511.4L1354.9 465.5L1355.7 477.0L1356.4 497.8L1357.7 480.2L1358.9 495.7L1360.4 479.0L1361.9 496.0L1363.0 477.8L1363.8 489.0L1365.3 480.2L1365.9 495.8L1367.1 512.2L1368.1 464.9L1368.9 511.6L1370.2 480.6L1371.7 499.1L1373.1 483.9L1374.2 498.2L1375.5 482.7L1377.0 513.7L1378.0 466.0L1379.1 501.2L1380.2 477.5L1381.6 503.1L1382.8 465.9L1383.5 514.6L1384.2 476.7L1385.6 499.1L1386.7 483.1L1387.8 503.6L1388.8 484.2L1389.6 512.0L1390.5 478.5L1391.8 515.0L1392.6 479.4L1393.5 491.3L1394.4 474.5L1395.0 488.9L1395.6 485.1L1397.0 512.0L1397.7 498.3L1398.5 484.3L1399.6 513.2L1400.6 513.4L1401.6 465.3L1402.4 513.6L1403.2 466.2L1404.2 512.7L1405.6 483.6L1406.7 512.1L1407.5 467.0L1408.6 514.8L1409.5 466.9L1410.1 506.8L1410.9 465.9L1412.1 501.7L1413.1 500.9L1413.9 466.4L1414.5 499.7L1415.4 479.9L1415.9 512.0L1416.9 471.7L1417.7 467.0L1418.7 501.5L1419.6 470.7L1420.6 511.4L1421.6 467.0L1422.1 499.0L1422.9 467.6L1423.3 511.7L1424.2 507.9L1424.9 466.9L1425.8 512.2L1426.4 474.0L1427.0 495.9L1427.9 467.1L1428.6 507.8L1429.2 514.3L1430.2 474.9L1431.2 506.4L1432.0 478.4L1432.9 495.1L1433.8 467.9L1434.6 506.3L1435.5 478.4L1436.0 504.3L1436.5 474.9L1437.5 475.0L1438.1 498.1L1438.8 467.5L1439.3 501.8L1440.2 467.5L1440.9 512.6L1441.5 468.0L1441.9 513.3L1442.5 466.3L1443.4 510.9L1444.1 466.2L1444.7 510.8L1445.2 506.2L1445.7 477.5L1446.3 505.7L1447.1 477.8L1448.0 470.3L1448.8 511.4L1449.8 468.0L1450.3 471.0L1450.8 513.0L1451.3 467.5L1451.6 511.5L1452.1 468.1L1452.5 513.2L1453.2 467.6L1453.8 512.8L1454.4 466.8L1454.8 512.6L1455.2 512.7L1455.8 475.2L1456.6 512.9L1457.2 510.5L1457.6 471.0L1458.5 466.8L1458.8 510.9L1459.6 513.5L1460.5 468.3L1460.9 511.4L1461.7 512.2L1462.2 471.7L1462.8 512.7L1463.5 467.7L1464.2 511.4L1464.7 468.2L1465.4 513.1L1466.0 513.1L1466.4 468.3L1466.8 511.1L1467.2 471.9L1467.9 510.9L1468.7 466.3L1469.3 512.4L1469.9 468.0L1470.5 512.2L1470.9 468.1L1471.3 510.9L1471.6 467.0L1472.3 467.8L1472.9 467.4L1473.5 510.6L1474.1 466.4L1474.6 468.2" stroke="#2a859c" stroke-opacity="0.7" stroke-width="2.1" stroke-linejoin="miter"/>
<linearGradient id="bg4" gradientUnits="userSpaceOnUse" x1="1474" y1="0" x2="1704.5" y2="0"><stop offset="0.000" stop-color="#2a859c" stop-opacity="0.7"/><stop offset="0.091" stop-color="#2a859c" stop-opacity="0.72"/><stop offset="0.397" stop-color="#2a859c" stop-opacity="0.78"/><stop offset="0.570" stop-color="#2a859c" stop-opacity="0.86"/><stop offset="0.785" stop-color="#2a859c" stop-opacity="0.95"/><stop offset="1.000" stop-color="#2a859c" stop-opacity="1.0"/></linearGradient>
<path d="M1474.0 465.9L1475.0 466.5L1476.0 466.1L1477.0 466.2L1478.0 466.1L1479.0 466.9L1480.0 466.7L1481.0 466.5L1482.0 466.0L1483.0 467.4L1484.0 466.2L1485.0 466.5L1486.0 466.2L1487.0 466.8L1488.0 467.4L1489.0 466.5L1490.0 467.2L1491.0 465.9L1492.0 467.3L1493.0 466.2L1494.0 467.1L1495.0 466.9L1496.0 466.0L1497.0 466.4L1498.0 466.9L1499.0 467.4L1500.0 467.5L1501.0 466.4L1502.0 466.9L1503.0 467.0L1504.0 466.2L1505.0 466.9L1506.0 466.1L1507.0 467.4L1508.0 467.5L1509.0 466.7L1510.0 466.6L1511.0 466.8L1512.0 466.1L1513.0 466.1L1514.0 466.5L1515.0 467.3L1516.0 466.7L1517.0 466.4L1518.0 466.9L1519.0 466.0L1520.0 466.2L1521.0 467.1L1522.0 467.2L1523.0 467.2L1524.0 466.5L1525.0 466.6L1526.0 466.2L1527.0 466.2L1528.0 466.0L1529.0 466.3L1530.0 467.3L1531.0 466.3L1532.0 467.1L1533.0 467.4L1534.0 466.8L1535.0 466.7L1536.0 466.7L1537.0 466.2L1538.0 467.2L1539.0 467.1L1540.0 466.3L1541.0 466.2L1542.0 466.2L1543.0 466.5L1544.0 467.1L1545.0 466.4L1546.0 467.2L1547.0 466.1L1548.0 467.4L1549.0 466.3L1550.0 466.6L1551.0 467.3L1552.0 466.3L1553.0 466.6L1554.0 466.6L1555.0 466.1L1556.0 467.0L1557.0 466.8L1558.0 466.5L1559.0 466.1L1560.0 466.5L1561.0 466.0L1562.0 466.6L1563.0 466.5L1564.0 467.0L1565.0 467.3L1566.0 467.0L1567.0 466.9L1568.0 466.2L1569.0 466.4L1570.0 466.9L1571.0 467.1L1572.0 467.4L1573.0 466.7L1574.0 467.0L1575.0 466.7L1576.0 466.5L1577.0 466.1L1578.0 467.2L1579.0 467.6L1580.0 466.2L1581.0 466.9L1582.0 466.3L1583.0 466.6L1584.0 466.7L1585.0 466.8L1586.0 466.1L1587.0 466.8L1588.0 466.9L1589.0 467.5L1590.0 467.3L1591.0 466.3L1592.0 467.4L1593.0 466.9L1594.0 466.5L1595.0 466.6L1596.0 467.0L1597.0 466.0L1598.0 466.6L1599.0 467.2L1600.0 467.3L1601.0 467.3L1602.0 466.7L1603.0 466.5L1604.0 466.7L1605.0 467.1L1606.0 466.3L1607.0 466.2L1608.0 466.3L1609.0 466.0L1610.0 466.6L1611.0 465.8L1612.0 465.9L1613.0 465.8L1614.0 465.6L1615.0 465.9L1616.0 466.1L1617.0 465.5L1618.0 466.2L1619.0 465.9L1620.0 466.1L1621.0 466.2L1622.0 466.6L1623.0 466.5L1624.0 466.3L1625.0 466.5L1626.0 466.0L1627.0 466.3L1628.0 466.0L1629.0 466.0L1630.0 466.4L1631.0 465.4L1632.0 466.0L1633.0 466.5L1634.0 465.8L1635.0 466.3L1636.0 465.6L1637.0 465.6L1638.0 466.2L1639.0 465.4L1640.0 466.1L1641.0 465.5L1642.0 465.0L1643.0 466.1L1644.0 465.8L1645.0 465.6L1646.0 466.0L1647.0 464.7L1648.0 465.6L1649.0 464.8L1650.0 465.8L1651.0 465.0L1652.0 464.6L1653.0 464.9L1654.0 464.9L1655.0 464.4L1656.0 465.1L1657.0 464.3L1658.0 464.5L1659.0 465.6L1660.0 465.6L1661.0 464.6L1662.0 465.1L1663.0 464.7L1664.0 465.2L1665.0 464.3L1666.0 464.0L1667.0 465.4L1668.0 464.2L1669.0 464.9L1670.0 465.3L1671.0 464.6L1672.0 464.1L1673.0 464.4L1674.0 464.8L1675.0 465.2L1676.0 464.4L1677.0 464.3L1678.0 464.5L1679.0 463.7L1680.0 464.1L1681.0 465.1L1682.0 463.6L1683.0 464.4L1684.0 464.7L1685.0 464.3L1686.0 463.4L1687.0 464.4L1688.0 464.8L1689.0 464.8L1690.0 464.0L1691.0 464.2L1692.0 464.3L1693.0 463.4L1694.0 464.1L1695.0 463.2L1696.0 464.2L1697.0 463.2L1698.0 463.6L1699.0 463.9L1700.0 464.5L1701.0 464.0L1702.0 464.4L1703.0 463.4L1704.0 463.8L1704.5 463.8L1704.5 509.0L1704.0 509.0L1703.0 510.5L1702.0 508.6L1701.0 510.2L1700.0 509.4L1699.0 509.4L1698.0 509.5L1697.0 510.6L1696.0 510.0L1695.0 510.8L1694.0 509.2L1693.0 510.2L1692.0 511.0L1691.0 509.6L1690.0 509.0L1689.0 509.4L1688.0 509.4L1687.0 511.3L1686.0 509.4L1685.0 510.8L1684.0 510.1L1683.0 510.7L1682.0 510.5L1681.0 510.2L1680.0 511.1L1679.0 510.3L1678.0 511.6L1677.0 510.2L1676.0 511.0L1675.0 511.7L1674.0 510.9L1673.0 509.9L1672.0 510.5L1671.0 510.2L1670.0 511.1L1669.0 509.7L1668.0 511.2L1667.0 510.9L1666.0 510.9L1665.0 510.2L1664.0 511.8L1663.0 510.7L1662.0 512.0L1661.0 511.9L1660.0 510.5L1659.0 511.5L1658.0 512.3L1657.0 510.0L1656.0 510.3L1655.0 510.9L1654.0 512.0L1653.0 510.1L1652.0 511.0L1651.0 510.5L1650.0 512.2L1649.0 510.3L1648.0 510.8L1647.0 512.4L1646.0 512.1L1645.0 511.0L1644.0 512.0L1643.0 510.5L1642.0 510.5L1641.0 511.8L1640.0 511.0L1639.0 512.4L1638.0 511.1L1637.0 510.5L1636.0 510.6L1635.0 510.6L1634.0 512.3L1633.0 511.4L1632.0 510.6L1631.0 510.4L1630.0 512.7L1629.0 511.6L1628.0 512.3L1627.0 510.9L1626.0 511.8L1625.0 512.6L1624.0 511.9L1623.0 510.6L1622.0 511.7L1621.0 511.1L1620.0 510.5L1619.0 512.1L1618.0 511.6L1617.0 512.4L1616.0 510.6L1615.0 512.4L1614.0 512.4L1613.0 512.3L1612.0 512.7L1611.0 511.0L1610.0 511.3L1609.0 511.6L1608.0 511.3L1607.0 512.9L1606.0 511.1L1605.0 510.8L1604.0 512.7L1603.0 510.9L1602.0 512.5L1601.0 511.6L1600.0 512.4L1599.0 512.4L1598.0 511.6L1597.0 512.4L1596.0 512.7L1595.0 513.0L1594.0 511.6L1593.0 512.9L1592.0 510.8L1591.0 510.9L1590.0 511.5L1589.0 512.8L1588.0 512.4L1587.0 511.9L1586.0 512.7L1585.0 511.0L1584.0 512.1L1583.0 510.8L1582.0 510.8L1581.0 513.3L1580.0 511.3L1579.0 512.7L1578.0 511.5L1577.0 513.2L1576.0 512.5L1575.0 512.8L1574.0 511.3L1573.0 512.5L1572.0 511.5L1571.0 512.1L1570.0 513.2L1569.0 511.7L1568.0 512.3L1567.0 511.6L1566.0 513.0L1565.0 511.4L1564.0 511.8L1563.0 513.1L1562.0 512.8L1561.0 510.8L1560.0 512.0L1559.0 512.1L1558.0 511.3L1557.0 513.2L1556.0 512.1L1555.0 511.5L1554.0 512.8L1553.0 512.7L1552.0 511.4L1551.0 511.9L1550.0 511.9L1549.0 513.0L1548.0 511.6L1547.0 512.5L1546.0 513.0L1545.0 512.9L1544.0 512.3L1543.0 512.0L1542.0 511.9L1541.0 512.0L1540.0 513.1L1539.0 512.5L1538.0 513.4L1537.0 513.0L1536.0 511.3L1535.0 512.8L1534.0 512.8L1533.0 512.0L1532.0 512.4L1531.0 512.2L1530.0 511.8L1529.0 511.5L1528.0 512.6L1527.0 513.3L1526.0 511.2L1525.0 511.8L1524.0 511.1L1523.0 513.6L1522.0 511.7L1521.0 513.6L1520.0 512.9L1519.0 511.4L1518.0 512.7L1517.0 512.1L1516.0 513.1L1515.0 512.3L1514.0 513.0L1513.0 511.6L1512.0 513.7L1511.0 511.5L1510.0 513.2L1509.0 513.2L1508.0 511.7L1507.0 512.8L1506.0 512.2L1505.0 513.0L1504.0 513.6L1503.0 511.4L1502.0 512.6L1501.0 511.7L1500.0 513.2L1499.0 513.7L1498.0 513.4L1497.0 512.3L1496.0 512.1L1495.0 511.8L1494.0 511.8L1493.0 513.3L1492.0 512.9L1491.0 513.2L1490.0 513.8L1489.0 511.8L1488.0 513.4L1487.0 512.7L1486.0 511.9L1485.0 513.8L1484.0 512.2L1483.0 512.4L1482.0 511.4L1481.0 513.9L1480.0 512.5L1479.0 511.7L1478.0 513.3L1477.0 513.3L1476.0 511.7L1475.0 513.1L1474.0 511.7Z" fill="url(#bg4)" stroke="none"/>
<path d="M1439.1 467.0V512.3M1476.7 467.4V511.8M1501.0 467.4V511.7M1519.0 467.4V511.6M1533.3 467.5V511.5M1545.2 467.5V511.4M1555.3 467.5V511.3M1564.2 467.5V511.3M1572.0 467.6V511.2M1579.1 467.6V511.2M1585.5 467.6V511.1M1591.4 467.6V511.1M1596.8 467.4V511.0M1601.8 467.3V511.0M1606.5 467.2V510.9M1610.9 467.0V510.9M1615.0 466.9V510.8M1619.0 466.8V510.8M1622.7 466.7V510.8M1626.2 466.6V510.7M1629.5 466.5V510.7M1632.7 466.5V510.7M1635.8 466.4V510.6M1638.7 466.3V510.6M1641.5 466.2V510.6M1644.2 466.2V510.6M1646.8 466.1V510.5M1649.3 466.0V510.5M1651.7 465.9V510.4M1654.0 465.9V510.4M1656.3 465.8V510.3M1658.5 465.7V510.2M1660.6 465.7V510.1M1662.7 465.6V510.1M1664.7 465.5V510.0M1666.6 465.5V509.9M1668.5 465.4V509.9M1670.4 465.4V509.8M1672.2 465.3V509.8M1673.9 465.3V509.7M1675.6 465.2V509.6M1677.3 465.1V509.6M1678.9 465.1V509.5M1680.5 465.0V509.5M1682.1 465.0V509.4M1683.6 465.0V509.4M1685.1 464.9V509.3M1686.5 464.9V509.2M1688.0 464.8V509.2M1689.4 464.8V509.1M1690.8 464.7V509.1M1692.1 464.7V509.0M1693.4 464.6V509.0M1694.7 464.6V508.9M1696.0 464.6V508.8M1697.2 464.5V508.8M1698.5 464.5V508.7M1699.7 464.5V508.7M1700.9 464.4V508.6M1702.0 464.4V508.6M1703.2 464.3V508.6M1704.3 464.3V508.5" stroke="#1f7b92" stroke-opacity="0.6" stroke-width="1.1" stroke-linecap="butt"/>
</g>
<path d="M1005.5 389.0h7" stroke="#000" stroke-width="1.15" stroke-opacity=".78"/>
<rect x="1005.5" y="385.5" width="699" height="145" fill="none" stroke="#000" stroke-width="1.15"/>
<text transform="translate(1001.8 392.7) scale(.88 1)" text-anchor="end" class="tl">0</text>
<text transform="translate(1001.8 416.0) scale(.88 1)" text-anchor="end" class="tl">-10</text>
<text transform="translate(1001.8 439.3) scale(.88 1)" text-anchor="end" class="tl">-20</text>
<text transform="translate(1001.8 462.6) scale(.88 1)" text-anchor="end" class="tl">-30</text>
<text transform="translate(1001.8 485.9) scale(.88 1)" text-anchor="end" class="tl">-40</text>
<text transform="translate(1001.8 509.2) scale(.88 1)" text-anchor="end" class="tl">-50</text>
<text transform="translate(1001.8 532.5) scale(.88 1)" text-anchor="end" class="tl">-60</text>
<text transform="translate(1708.5 400.2) scale(.88 1)" class="tl">150</text>
<text transform="translate(1708.5 420.6) scale(.88 1)" class="tl">100</text>
<text transform="translate(1708.5 440.9) scale(.88 1)" class="tl">50</text>
<text transform="translate(1708.5 461.3) scale(.88 1)" class="tl">0</text>
<text transform="translate(1708.5 481.7) scale(.88 1)" class="tl">-50</text>
<text transform="translate(1708.5 502.1) scale(.88 1)" class="tl">-100</text>
<text transform="translate(1708.5 522.4) scale(.88 1)" class="tl">-150</text>
<text transform="translate(1006.0 551.8) scale(.9 1)" text-anchor="middle" class="tl">1</text>
<text transform="translate(1166.9 551.8) scale(.9 1)" text-anchor="middle" class="tl">10</text>
<text transform="translate(1327.9 551.8) scale(.9 1)" text-anchor="middle" class="tl">100</text>
<text transform="translate(1488.9 551.8) scale(.9 1)" text-anchor="middle" class="tl">1000</text>
<text transform="translate(1649.9 551.8) scale(.9 1)" text-anchor="middle" class="tl">10000</text>
<text transform="translate(982.3 458.0) rotate(-90)" text-anchor="middle" class="tl" textLength="45" lengthAdjust="spacingAndGlyphs">Gain (dB)</text>
<text transform="translate(1740.6 458.0) rotate(-90)" text-anchor="middle" class="tl" textLength="57" lengthAdjust="spacingAndGlyphs">Phase (deg)</text></svg>
<svg class="abs" style="left:0;top:0" width="1920" height="1050" viewBox="0 0 1920 1050" font-family="Liberation Sans, sans-serif">
<defs>
<clipPath id="onpanel"><rect x="108" y="62" width="1704" height="950"/></clipPath>
<clipPath id="offpanel"><rect x="1812" y="62" width="106" height="950"/></clipPath>
</defs>
<g id="wm">
 <g clip-path="url(#onpanel)" fill="#bcbcbc">
  <text x="1447.5" y="954.8" font-size="19.2" textLength="183.5" lengthAdjust="spacingAndGlyphs">Активация Windows</text>
  <text x="1447.5" y="975.6" font-size="14.2" textLength="391" lengthAdjust="spacingAndGlyphs">Чтобы активировать Windows, перейдите к параметрам</text>
  <text x="1447.5" y="995.6" font-size="14.2" textLength="88.5" lengthAdjust="spacingAndGlyphs">компьютера.</text>
  <!-- keys icon -->
  <g fill="#c1c1c1">
   <path d="M1406 932.5a12.3 12.3 0 0 0-5.2 23.5l0 14.5 2 2-2 2 2 2-1.8 2 3 2.8 3.4-3V956a12.3 12.3 0 0 0-1.4-23.5zm0 2.6a9.6 9.6 0 0 1 9.6 9.4h-19.2a9.6 9.6 0 0 1 9.6-9.4z"/>
   <path d="M1420.5 941.5c3.2 4.2 4.2 9.5 2.6 14.3l16.2 13.2 .4 5.2-6 .2-1.8-2.2-2.6 .6-1.2-2.6-2.4 .2-9-8.8c-1.4 .4-2.8 .4-4.2 0l2.8-1.2c4.4-3.2 6.6-9.400 5.200-18.900z"/>
  </g>
 </g>
 <g clip-path="url(#offpanel)" fill="#7c7c7c">
  <text x="1447.5" y="975.6" font-size="14.2" textLength="391" lengthAdjust="spacingAndGlyphs">Чтобы активировать Windows, перейдите к параметрам</text>
 </g>
</g>
<!-- mouse cursor -->
<path d="M149.500 76.300V92.500L153.200 89.200L155.700 94.800L158.100 93.800L155.700 88.300L160.400 88.100Z" fill="#fff" stroke="#000" stroke-width="1" stroke-linejoin="miter"/>
</svg>

</body></html>
